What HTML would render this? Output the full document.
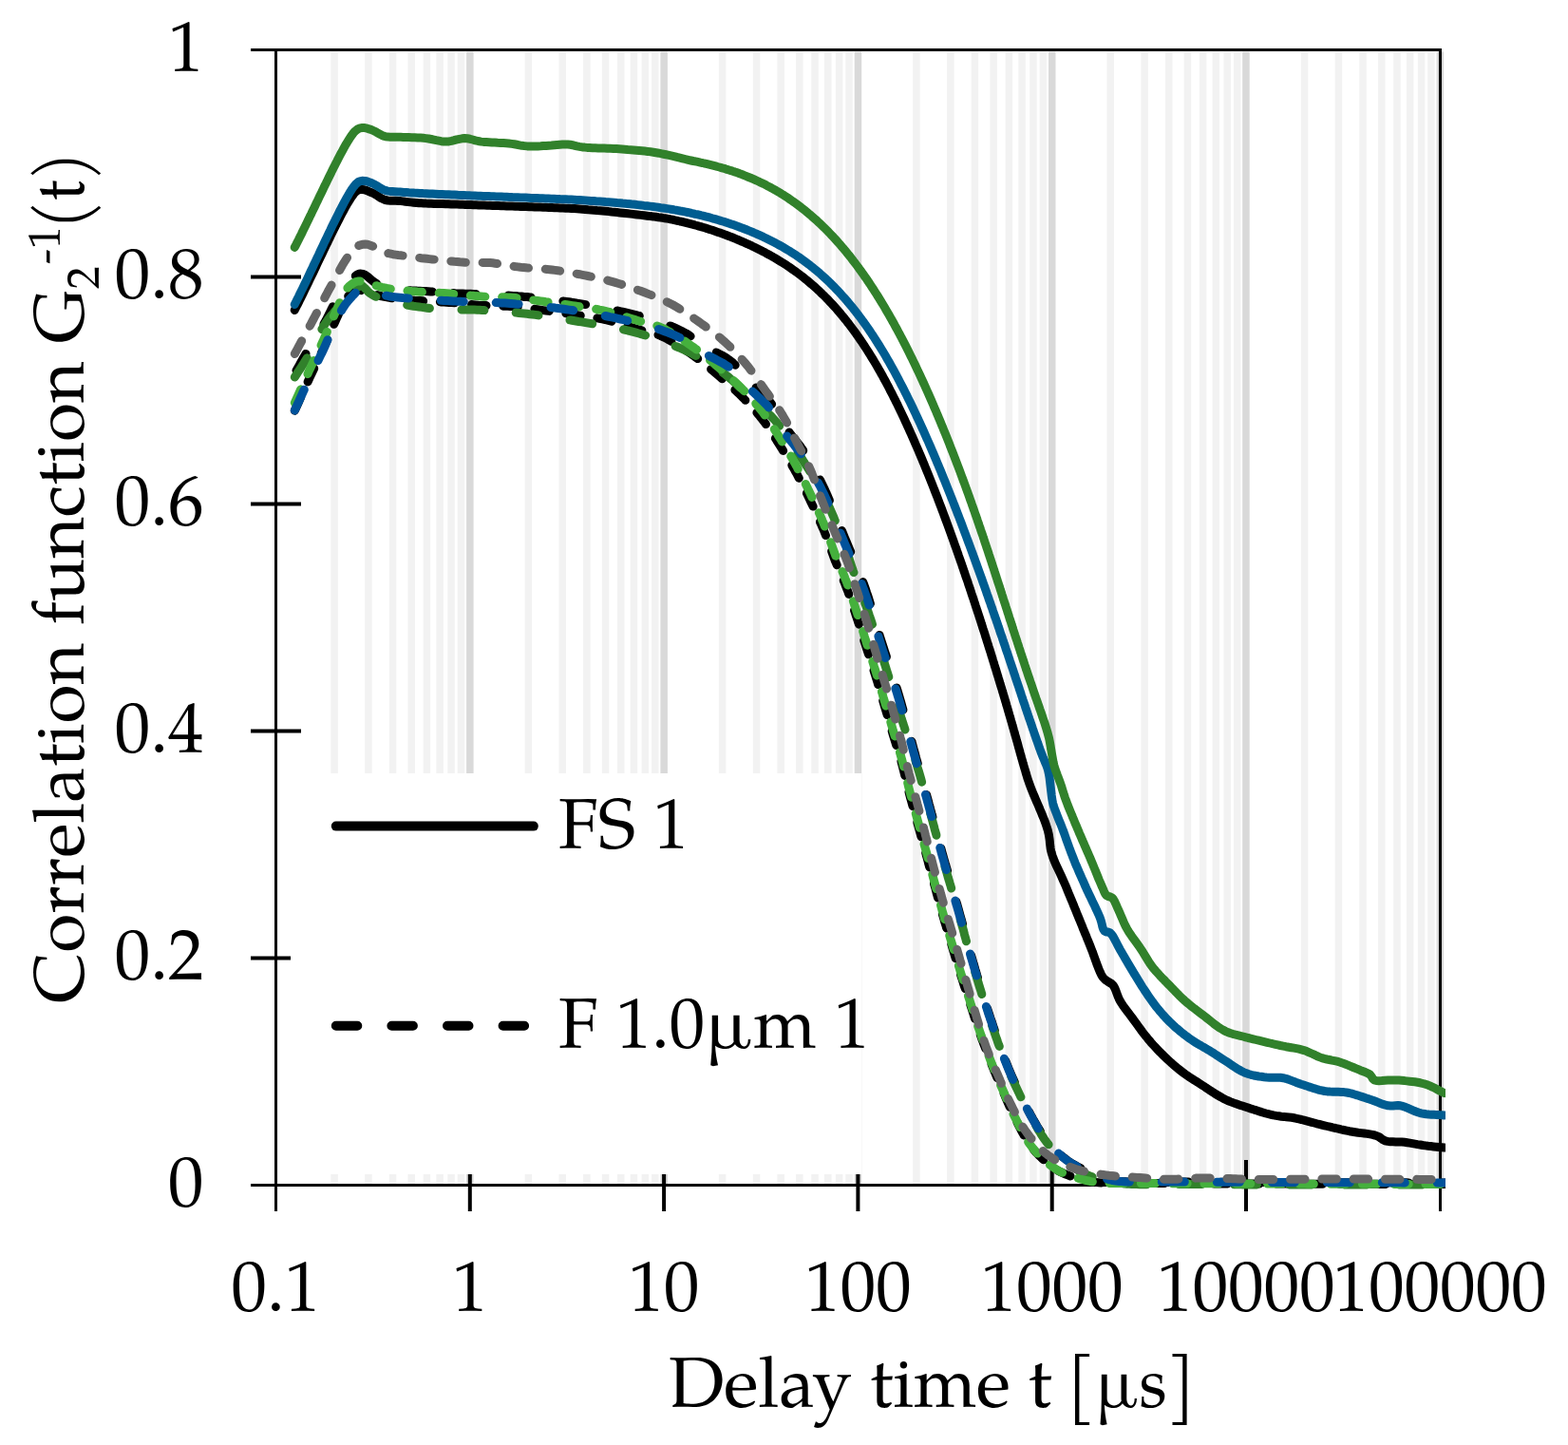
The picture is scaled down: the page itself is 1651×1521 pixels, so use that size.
<!DOCTYPE html><html><head><meta charset="utf-8"><title>Correlation function</title><style>html,body{margin:0;padding:0;background:#fff;overflow:hidden}svg{display:block}text{font-family:"TeX Gyre Pagella","Palatino Linotype","Book Antiqua",Palatino,"Liberation Serif",serif;fill:#000}</style></head><body>
<svg width="1651" height="1521" viewBox="0 0 1651 1521">
<rect x="0" y="0" width="1651" height="1521" fill="#fff"/>
<g><rect x="348.3" y="54.5" width="7.5" height="1192.0" fill="#f2f2f2"/><rect x="384.2" y="54.5" width="7.5" height="1192.0" fill="#f2f2f2"/><rect x="409.8" y="54.5" width="7.5" height="1192.0" fill="#f2f2f2"/><rect x="429.5" y="54.5" width="7.5" height="1192.0" fill="#f2f2f2"/><rect x="445.7" y="54.5" width="7.5" height="1192.0" fill="#f2f2f2"/><rect x="459.4" y="54.5" width="7.5" height="1192.0" fill="#f2f2f2"/><rect x="471.3" y="54.5" width="7.5" height="1192.0" fill="#f2f2f2"/><rect x="481.7" y="54.5" width="7.5" height="1192.0" fill="#f2f2f2"/><rect x="491.1" y="54.5" width="7.5" height="1192.0" fill="#d9d9d9"/><rect x="552.6" y="54.5" width="7.5" height="1192.0" fill="#f2f2f2"/><rect x="588.5" y="54.5" width="7.5" height="1192.0" fill="#f2f2f2"/><rect x="614.1" y="54.5" width="7.5" height="1192.0" fill="#f2f2f2"/><rect x="633.8" y="54.5" width="7.5" height="1192.0" fill="#f2f2f2"/><rect x="650.0" y="54.5" width="7.5" height="1192.0" fill="#f2f2f2"/><rect x="663.7" y="54.5" width="7.5" height="1192.0" fill="#f2f2f2"/><rect x="675.6" y="54.5" width="7.5" height="1192.0" fill="#f2f2f2"/><rect x="686.0" y="54.5" width="7.5" height="1192.0" fill="#f2f2f2"/><rect x="695.4" y="54.5" width="7.5" height="1192.0" fill="#d9d9d9"/><rect x="756.9" y="54.5" width="7.5" height="1192.0" fill="#f2f2f2"/><rect x="792.8" y="54.5" width="7.5" height="1192.0" fill="#f2f2f2"/><rect x="818.4" y="54.5" width="7.5" height="1192.0" fill="#f2f2f2"/><rect x="838.1" y="54.5" width="7.5" height="1192.0" fill="#f2f2f2"/><rect x="854.3" y="54.5" width="7.5" height="1192.0" fill="#f2f2f2"/><rect x="868.0" y="54.5" width="7.5" height="1192.0" fill="#f2f2f2"/><rect x="879.9" y="54.5" width="7.5" height="1192.0" fill="#f2f2f2"/><rect x="890.3" y="54.5" width="7.5" height="1192.0" fill="#f2f2f2"/><rect x="899.7" y="54.5" width="7.5" height="1192.0" fill="#d9d9d9"/><rect x="961.2" y="54.5" width="7.5" height="1192.0" fill="#f2f2f2"/><rect x="997.1" y="54.5" width="7.5" height="1192.0" fill="#f2f2f2"/><rect x="1022.7" y="54.5" width="7.5" height="1192.0" fill="#f2f2f2"/><rect x="1042.4" y="54.5" width="7.5" height="1192.0" fill="#f2f2f2"/><rect x="1058.6" y="54.5" width="7.5" height="1192.0" fill="#f2f2f2"/><rect x="1072.3" y="54.5" width="7.5" height="1192.0" fill="#f2f2f2"/><rect x="1084.2" y="54.5" width="7.5" height="1192.0" fill="#f2f2f2"/><rect x="1094.6" y="54.5" width="7.5" height="1192.0" fill="#f2f2f2"/><rect x="1104.0" y="54.5" width="7.5" height="1192.0" fill="#d9d9d9"/><rect x="1165.5" y="54.5" width="7.5" height="1192.0" fill="#f2f2f2"/><rect x="1201.4" y="54.5" width="7.5" height="1192.0" fill="#f2f2f2"/><rect x="1227.0" y="54.5" width="7.5" height="1192.0" fill="#f2f2f2"/><rect x="1246.7" y="54.5" width="7.5" height="1192.0" fill="#f2f2f2"/><rect x="1262.9" y="54.5" width="7.5" height="1192.0" fill="#f2f2f2"/><rect x="1276.6" y="54.5" width="7.5" height="1192.0" fill="#f2f2f2"/><rect x="1288.5" y="54.5" width="7.5" height="1192.0" fill="#f2f2f2"/><rect x="1298.9" y="54.5" width="7.5" height="1192.0" fill="#f2f2f2"/><rect x="1308.2" y="54.5" width="7.5" height="1192.0" fill="#d9d9d9"/><rect x="1369.8" y="54.5" width="7.5" height="1192.0" fill="#f2f2f2"/><rect x="1405.7" y="54.5" width="7.5" height="1192.0" fill="#f2f2f2"/><rect x="1431.3" y="54.5" width="7.5" height="1192.0" fill="#f2f2f2"/><rect x="1451.0" y="54.5" width="7.5" height="1192.0" fill="#f2f2f2"/><rect x="1467.2" y="54.5" width="7.5" height="1192.0" fill="#f2f2f2"/><rect x="1480.9" y="54.5" width="7.5" height="1192.0" fill="#f2f2f2"/><rect x="1492.8" y="54.5" width="7.5" height="1192.0" fill="#f2f2f2"/><rect x="1503.2" y="54.5" width="7.5" height="1192.0" fill="#f2f2f2"/><rect x="1512.6" y="54.5" width="7.5" height="1192.0" fill="#d9d9d9"/></g>
<g><line x1="290.5" y1="51.0" x2="290.5" y2="1275.0" stroke="#000" stroke-width="3"/><line x1="1516.5" y1="51.0" x2="1516.5" y2="1275.0" stroke="#000" stroke-width="3"/><line x1="264" y1="52.5" x2="1518.0" y2="52.5" stroke="#000" stroke-width="3"/><line x1="264" y1="1247.5" x2="1518.0" y2="1247.5" stroke="#000" stroke-width="3"/><line x1="264" y1="1008.5" x2="317" y2="1008.5" stroke="#000" stroke-width="4"/><line x1="264" y1="769.5" x2="317" y2="769.5" stroke="#000" stroke-width="4"/><line x1="264" y1="530.5" x2="317" y2="530.5" stroke="#000" stroke-width="4"/><line x1="264" y1="291.5" x2="317" y2="291.5" stroke="#000" stroke-width="4"/><line x1="494.8" y1="1221" x2="494.8" y2="1275" stroke="#000" stroke-width="4"/><line x1="699.1" y1="1221" x2="699.1" y2="1275" stroke="#000" stroke-width="4"/><line x1="903.4" y1="1221" x2="903.4" y2="1275" stroke="#000" stroke-width="4"/><line x1="1107.7" y1="1221" x2="1107.7" y2="1275" stroke="#000" stroke-width="4"/><line x1="1312.0" y1="1221" x2="1312.0" y2="1275" stroke="#000" stroke-width="4"/></g>
<rect x="306" y="814" width="601" height="422" fill="#fff"/>
<line x1="353.8" y1="869.6" x2="561.8" y2="869.6" stroke="#000" stroke-width="10" stroke-linecap="round"/>
<line x1="353.8" y1="1079.8" x2="552.2" y2="1079.8" stroke="#000" stroke-width="10" stroke-linecap="round" stroke-dasharray="22.5 36.1"/>
<defs><clipPath id="pc"><rect x="0" y="0" width="1522" height="1521"/></clipPath></defs>
<g clip-path="url(#pc)">
<path d="M312.0 389.9 L312.7 388.7 L314.0 386.5 L315.2 384.4 L316.4 382.2 L317.6 380.1 L318.8 377.9 L320.0 375.8 L321.3 373.7 L322.0 372.4 M341.0 341.0 L341.7 339.8 L342.9 337.5 L344.1 335.3 L345.3 332.9 L346.5 330.6 L347.7 328.2 L348.8 325.9 L350.0 323.6 L350.4 322.8 M374.3 290.5 L375.7 289.3 L377.8 288.3 L380.0 288.1 L382.3 288.5 L384.6 289.4 L387.1 291.1 L389.6 293.3 L392.3 295.6 L395.0 297.6 L396.6 298.6 M431.3 305.7 L433.0 305.8 L436.0 305.9 L439.1 306.1 L442.1 306.2 L445.0 306.4 L448.0 306.6 L450.9 306.8 L453.7 307.0 L455.3 307.1 M477.2 308.6 L479.4 308.8 L482.0 308.9 L484.6 309.0 L487.3 309.1 L490.0 309.2 L492.8 309.3 L495.7 309.3 L498.6 309.4 L501.2 309.5 M535.2 311.0 L537.5 311.2 L540.5 311.4 L543.4 311.6 L546.3 311.9 L549.3 312.1 L552.2 312.4 L555.2 312.6 L558.1 312.9 L559.1 313.0 M592.9 316.9 L593.3 317.0 L596.2 317.4 L599.1 317.8 L602.0 318.3 L604.9 318.7 L607.9 319.2 L610.8 319.6 L613.7 320.1 L616.6 320.6 M650.0 327.0 L650.6 327.1 L653.6 327.8 L656.6 328.5 L659.7 329.2 L662.7 329.9 L665.7 330.6 L668.7 331.3 L671.6 332.1 L673.3 332.5 M705.7 342.9 L707.3 343.5 L709.8 344.6 L712.4 345.8 L714.9 347.0 L717.4 348.2 L720.0 349.6 L722.4 350.9 L724.8 352.4 L727.1 353.9 M754.3 370.9 L755.6 371.6 L758.1 372.9 L760.6 374.2 L763.0 375.6 L765.3 377.1 L767.5 378.6 L769.7 380.3 L771.9 382.1 L773.9 384.1 L774.2 384.3 M796.0 408.0 L797.2 409.1 L799.3 411.0 L801.4 413.0 L803.5 415.0 L805.5 417.1 L807.5 419.2 L809.3 421.3 L811.1 423.4 L812.6 425.4 M831.0 455.0 L831.6 455.8 L833.5 458.2 L835.4 460.5 L837.3 462.9 L839.1 465.2 L840.9 467.5 L842.7 469.8 L844.3 472.2 L845.7 474.2 M863.3 504.9 L863.8 505.8 L865.1 508.5 L866.5 511.3 L868.0 514.5 L869.0 516.6 L870.0 518.8 L871.0 521.2 L872.1 523.6 L873.1 526.1 L873.4 526.8 M886.4 558.5 L886.8 559.4 L887.9 562.2 L889.0 564.9 L890.1 567.7 L891.3 570.4 L892.5 573.2 L893.6 575.9 L894.8 578.7 L895.7 580.8 M908.7 612.6 L909.6 614.9 L910.6 617.8 L911.6 620.6 L912.5 623.4 L913.5 626.2 L914.4 629.0 L915.3 631.8 L916.1 634.7 L916.4 635.5 M926.1 668.4 L926.2 669.0 L927.1 671.9 L928.0 674.7 L928.9 677.5 L929.8 680.2 L930.7 683.0 L931.6 685.8 L932.5 688.5 L933.4 691.2 L933.4 691.4 M944.1 724.0 L944.3 724.4 L945.1 727.2 L946.0 730.1 L946.8 732.8 L947.6 735.5 L948.4 738.3 L949.2 741.1 L950.0 743.9 L950.8 746.8 L950.9 747.2 M959.9 780.3 L960.1 781.1 L960.9 783.9 L961.6 786.6 L962.3 789.4 L963.1 792.0 L963.8 794.7 L964.6 797.7 L965.5 800.7 L966.3 803.6 M975.6 836.6 L975.9 837.6 L976.7 840.5 L977.5 843.5 L978.2 846.2 L979.0 849.0 L979.7 851.7 L980.5 854.5 L981.2 857.3 L982.0 860.0 M990.9 893.1 L991.1 894.0 L991.9 896.9 L992.7 899.7 L993.5 902.6 L994.3 905.4 L995.1 908.3 L996.0 911.2 L996.8 914.1 L997.5 916.4 M1007.0 949.3 L1007.7 951.5 L1008.5 954.4 L1009.3 957.3 L1010.1 960.2 L1010.9 963.1 L1011.7 965.9 L1012.5 968.8 L1013.3 971.7 L1013.5 972.6 M1022.6 1005.7 L1022.7 1006.2 L1023.6 1009.1 L1024.4 1011.9 L1025.2 1014.7 L1026.1 1017.6 L1026.9 1020.5 L1027.8 1023.4 L1028.6 1026.3 L1029.4 1028.9 M1039.6 1061.6 L1040.2 1063.4 L1041.1 1066.2 L1042.1 1069.1 L1043.0 1071.9 L1044.0 1074.7 L1044.9 1077.5 L1045.8 1080.3 L1046.8 1083.1 L1047.3 1084.6 M1058.8 1116.8 L1058.9 1116.9 L1060.0 1119.6 L1061.1 1122.4 L1062.2 1125.1 L1063.3 1127.8 L1064.5 1130.6 L1065.7 1133.3 L1067.0 1136.1 L1068.2 1138.9 L1068.3 1139.1 M1083.2 1169.9 L1083.8 1170.9 L1085.0 1173.2 L1086.3 1175.5 L1087.5 1177.7 L1089.1 1180.4 L1090.6 1183.0 L1092.0 1185.6 L1093.5 1188.0 L1095.0 1190.3 L1095.3 1190.8 M1117.6 1216.5 L1118.2 1217.0 L1120.3 1218.7 L1122.4 1220.3 L1124.5 1221.9 L1126.8 1223.4 L1129.1 1224.9 L1131.4 1226.2 L1133.7 1227.5 L1136.1 1228.7 L1137.8 1229.5 M1169.4 1241.9 L1171.8 1242.4 L1175.0 1243.0 L1176.8 1243.2 L1178.7 1243.4 L1180.8 1243.6 L1182.9 1243.7 L1185.1 1243.8 L1187.4 1243.9 L1189.8 1244.0 L1192.3 1244.1 L1193.3 1244.1 M1227.3 1244.0 L1228.3 1244.0 L1231.8 1244.0 L1235.3 1243.9 L1238.9 1243.9 L1242.5 1243.9 L1246.2 1243.9 L1250.0 1244.0 L1251.3 1244.0 M1285.3 1244.2 L1287.6 1244.2 L1290.2 1244.2 L1292.9 1244.2 L1295.6 1244.3 L1298.3 1244.3 L1301.0 1244.3 L1303.8 1244.3 L1306.6 1244.3 L1309.3 1244.3 M1343.3 1244.4 L1345.0 1244.5 L1348.1 1244.5 L1351.2 1244.5 L1354.4 1244.5 L1357.5 1244.5 L1360.7 1244.5 L1363.8 1244.5 L1367.0 1244.5 L1367.3 1244.5 M1401.3 1244.6 L1402.6 1244.6 L1405.8 1244.6 L1409.1 1244.6 L1412.4 1244.7 L1415.7 1244.7 L1419.0 1244.7 L1422.2 1244.7 L1425.3 1244.7 M1459.3 1244.8 L1461.5 1244.8 L1464.8 1244.8 L1468.0 1244.8 L1471.2 1244.8 L1474.4 1244.8 L1477.6 1244.8 L1480.8 1244.8 L1483.3 1244.9 M1517.3 1245.0 L1518.0 1245.0 L1521.0 1245.0" fill="none" stroke="#000" stroke-width="9" stroke-linecap="round" stroke-linejoin="round"/>
<path d="M310.3 432.2 311.5 429.6 312.7 427.0 313.9 424.3 315.1 421.7 316.3 419.0 317.5 416.3 318.7 413.7 319.9 411.0 321.1 408.4 322.3 405.8 323.5 403.2 324.7 400.6 325.8 398.1 327.0 395.6 328.2 393.0 329.4 390.5 330.6 388.0 331.8 385.5 332.9 383.0 334.1 380.6 335.3 378.2 336.4 375.7 337.6 373.3 338.7 370.9 339.9 368.4 341.0 365.9 342.1 363.4 343.3 360.8 344.4 358.2 345.5 355.5 346.6 352.9 347.8 350.3 348.9 347.7 350.0 345.1 351.1 342.6 352.2 340.1 353.3 337.6 354.4 335.2 355.7 332.4 356.9 329.6 358.1 326.8 359.3 324.0 360.5 321.3 361.8 318.8 363.1 316.4 364.5 314.3 366.0 312.4 368.0 310.4 370.1 308.6 372.4 307.2 374.6 306.1 377.0 305.5 379.4 305.5 382.0 305.9 384.6 306.8 387.2 307.7 390.0 308.5 392.3 309.1 394.7 309.7 397.0 310.4 399.5 311.1 402.0 311.8 404.7 312.4 407.5 312.9 410.0 313.4 412.7 313.8 415.5 314.1 418.4 314.5 421.3 314.8 424.3 315.1 427.4 315.4 430.4 315.6 433.5 315.9 436.5 316.2 439.5 316.4 442.3 316.6 445.0 316.8 447.8 317.0 450.6 317.1 453.4 317.3 456.2 317.4 459.0 317.6 461.8 317.7 464.6 317.9 467.4 318.0 470.2 318.2 473.0 318.4 475.8 318.6 478.6 318.8 481.4 319.1 484.2 319.4 487.0 319.6 489.8 319.9 492.6 320.2 495.4 320.5 498.2 320.7 501.0 320.9 503.8 321.2 506.6 321.4 509.4 321.5 512.2 321.6 515.0 321.7 517.8 321.8 520.6 321.9 523.4 321.9 526.1 322.0 528.9 322.1 531.7 322.2 534.5 322.3 537.2 322.4 540.0 322.6 542.9 322.9 545.9 323.2 548.8 323.5 551.7 323.9 554.6 324.2 557.5 324.6 560.4 325.0 563.3 325.4 566.2 325.8 569.1 326.2 572.0 326.6 574.8 327.0 577.5 327.3 580.3 327.7 583.1 328.1 585.9 328.5 588.7 328.8 591.4 329.2 594.2 329.6 597.0 330.0 599.8 330.4 602.6 330.8 605.3 331.3 608.2 331.7 611.1 332.1 614.0 332.5 616.9 332.9 619.8 333.3 622.6 333.8 625.5 334.2 628.4 334.7 631.3 335.3 634.2 335.9 637.2 336.5 639.9 337.2 642.7 337.9 645.6 338.7 648.4 339.5 651.3 340.3 654.2 341.2 657.0 342.1 659.9 343.0 662.7 343.9 665.4 344.7 668.1 345.6 670.7 346.4 673.2 347.1 676.3 347.9 679.2 348.7 682.0 349.3 684.7 350.0 687.4 350.7 690.1 351.5 693.0 352.4 695.9 353.6 698.2 354.7 700.5 355.8 702.9 357.0 705.3 358.4 707.8 359.8 710.3 361.3 712.8 362.8 715.3 364.3 717.7 365.9 720.2 367.6 722.7 369.2 725.1 370.8 727.4 372.4 729.7 374.0 732.0 375.7 734.3 377.3 736.6 379.0 738.8 380.8 741.0 382.5 743.2 384.3 745.4 386.0 747.6 387.8 749.7 389.6 751.8 391.3 753.9 393.1 756.0 394.9 758.0 396.6 760.2 398.5 762.4 400.3 764.5 402.1 766.6 403.9 768.7 405.8 770.7 407.6 772.8 409.4 774.8 411.3 776.8 413.2 778.8 415.1 780.8 417.1 782.7 419.0 784.6 421.0 786.5 423.0 788.4 425.0 790.3 427.0 792.2 429.1 794.1 431.1 795.9 433.2 797.7 435.3 799.5 437.5 801.2 439.6 802.9 441.7 804.7 444.1 806.4 446.4 808.1 448.8 809.7 451.2 811.4 453.6 813.0 456.0 814.5 458.5 816.1 460.9 817.7 463.4 819.2 465.9 820.8 468.4 822.3 470.7 823.7 473.0 825.2 475.3 826.6 477.6 828.0 479.9 829.5 482.3 830.9 484.7 832.3 487.0 833.7 489.5 835.1 492.0 836.6 494.5 838.0 497.1 839.3 499.4 840.5 501.8 841.8 504.2 843.1 506.7 844.4 509.3 845.8 511.9 847.1 514.5 848.4 517.1 849.7 519.7 850.9 522.3 852.2 524.9 853.4 527.5 854.6 530.0 855.8 532.4 856.9 534.8 858.0 537.2 859.2 539.9 860.4 542.5 861.6 545.1 862.7 547.6 863.8 550.1 864.9 552.5 865.9 555.0 867.0 557.4 868.0 559.9 869.0 562.4 870.0 564.9 871.1 567.6 872.1 570.4 873.1 573.2 874.1 575.9 875.1 578.7 876.1 581.5 877.1 584.2 878.1 587.0 879.1 589.7 880.2 592.4 881.3 595.0 882.3 597.6 883.4 600.1 884.5 602.6 885.7 605.2 886.8 607.7 887.9 610.3 889.0 612.8 890.0 615.5 891.1 618.2 892.0 620.7 893.0 623.2 893.9 625.8 894.8 628.4 895.7 631.0 896.6 633.7 897.5 636.3 898.4 639.0 899.3 641.7 900.2 644.3 901.0 647.0 901.9 649.6 902.8 652.3 903.6 654.9 904.5 657.5 905.3 660.1 906.2 662.7 907.0 665.4 907.8 668.0 908.7 670.6 909.5 673.2 910.3 675.9 911.2 678.5 912.0 681.1 912.8 683.7 913.7 686.4 914.6 689.0 915.4 691.6 916.3 694.2 917.1 696.9 918.0 699.5 918.9 702.1 919.7 704.7 920.5 707.3 921.4 710.0 922.2 712.6 923.0 715.2 923.8 717.8 924.6 720.5 925.4 723.1 926.2 725.7 926.9 728.3 927.7 731.0 928.5 733.6 929.3 736.2 930.0 738.8 930.8 741.5 931.6 744.1 932.4 746.7 933.2 749.4 934.0 752.0 934.8 754.7 935.6 757.4 936.3 760.0 937.1 762.7 937.9 765.3 938.7 767.9 939.5 770.5 940.2 773.1 941.0 775.6 941.8 778.2 942.6 780.8 943.4 783.4 944.2 785.9 945.0 788.4 945.8 790.9 946.6 793.4 947.3 796.0 948.1 798.7 948.9 801.4 949.6 804.0 950.3 806.6 951.0 809.4 951.7 812.1 952.4 815.0 953.1 817.8 953.8 820.7 954.5 823.5 955.2 826.4 955.9 829.3 956.6 832.1 957.3 834.8 958.0 837.5 958.8 840.5 959.6 843.4 960.4 846.3 961.2 849.2 961.9 852.0 962.7 854.8 963.5 857.7 964.3 860.5 965.1 863.3 965.9 866.2 966.7 869.0 967.5 871.9 968.3 874.7 969.1 877.6 969.9 880.5 970.7 883.3 971.5 886.2 972.2 889.1 973.0 891.9 973.8 894.8 974.6 897.6 975.4 900.5 976.2 903.4 977.0 906.2 977.7 909.1 978.5 912.0 979.3 914.8 980.1 917.7 980.9 920.5 981.7 923.4 982.4 926.3 983.2 929.1 984.0 932.0 984.8 934.8 985.6 937.7 986.3 940.6 987.1 943.4 987.9 946.3 988.7 949.2 989.5 952.0 990.3 954.9 991.1 957.8 991.9 960.6 992.7 963.5 993.5 966.1 994.2 968.7 995.0 971.4 995.8 974.0 996.6 976.7 997.4 979.3 998.2 981.9 999.0 984.5 999.7 987.2 1000.5 989.8 1001.3 992.4 1002.1 995.0 1002.9 997.7 1003.7 1000.4 1004.5 1003.0 1005.3 1005.7 1006.1 1008.4 1006.9 1011.0 1007.7 1013.7 1008.5 1016.3 1009.4 1019.0 1010.2 1021.6 1011.0 1024.3 1011.9 1027.1 1012.8 1029.9 1013.7 1032.7 1014.6 1035.5 1015.5 1038.3 1016.4 1041.0 1017.4 1043.9 1018.3 1046.7 1019.2 1049.6 1020.2 1052.5 1021.1 1055.1 1021.9 1057.9 1022.8 1060.6 1023.7 1063.4 1024.6 1066.2 1025.5 1069.0 1026.4 1071.8 1027.3 1074.6 1028.3 1077.4 1029.2 1080.2 1030.1 1083.0 1031.1 1085.7 1032.0 1088.4 1033.0 1091.1 1033.9 1093.8 1034.9 1096.4 1035.9 1099.1 1036.9 1101.7 1037.9 1104.3 1038.8 1107.0 1039.9 1109.6 1040.9 1112.2 1041.9 1114.8 1042.9 1117.4 1044.0 1120.2 1045.1 1122.9 1046.2 1125.7 1047.4 1128.4 1048.5 1131.1 1049.7 1133.9 1050.8 1136.6 1052.0 1139.3 1053.1 1142.0 1054.3 1144.7 1055.5 1147.4 1056.6 1149.9 1057.7 1152.4 1058.7 1154.9 1059.8 1157.4 1060.9 1159.9 1062.0 1162.4 1063.1 1164.9 1064.2 1167.3 1065.3 1169.8 1066.5 1172.3 1067.7 1174.8 1069.0 1177.3 1070.3 1179.8 1071.5 1182.3 1072.8 1184.8 1074.1 1187.3 1075.4 1189.9 1076.7 1192.4 1078.1 1194.9 1079.5 1197.4 1081.0 1199.8 1082.5 1202.2 1084.1 1204.6 1085.8 1206.8 1087.5 1209.0 1089.4 1211.2 1091.4 1213.5 1093.5 1215.7 1095.7 1217.8 1097.9 1219.9 1100.1 1222.0 1102.4 1223.9 1104.8 1225.8 1107.2 1227.6 1109.6 1229.3 1112.0 1230.9 1114.4 1232.4 1116.9 1233.7 1119.5 1234.9 1122.1 1236.1 1124.8 1237.1 1127.5 1238.1 1130.3 1238.9 1133.0 1239.7 1135.6 1240.5 1138.2 1241.1 1140.6 1241.8 1143.0 1242.4 1146.0 1243.1 1148.6 1243.6 1151.2 1244.1 1153.8 1244.4 1156.7 1244.7 1160.0 1245.0 1162.2 1245.2 1164.5 1245.3 1166.9 1245.4 1169.3 1245.5 1171.9 1245.5 1174.6 1245.6 1177.3 1245.6 1180.2 1245.6 1183.1 1245.6 1186.1 1245.6 1189.2 1245.6 1192.3 1245.5 1195.5 1245.5 1198.8 1245.5 1202.1 1245.5 1205.5 1245.5 1209.0 1245.5 1211.3 1245.5 1213.7 1245.6 1216.2 1245.6 1218.6 1245.6 1221.1 1245.6 1223.7 1245.6 1226.2 1245.6 1228.9 1245.6 1231.5 1245.7 1234.2 1245.7 1236.9 1245.7 1239.7 1245.7 1242.5 1245.7 1245.3 1245.7 1248.1 1245.7 1251.0 1245.8 1253.9 1245.8 1256.9 1245.8 1259.8 1245.8 1262.8 1245.8 1265.8 1245.8 1268.9 1245.8 1271.9 1245.8 1275.0 1245.8 1278.1 1245.9 1281.3 1245.9 1284.4 1245.9 1287.6 1245.9 1290.8 1245.9 1294.0 1245.9 1297.2 1245.9 1300.4 1245.9 1303.7 1245.9 1307.0 1246.0 1310.2 1246.0 1313.5 1246.0 1316.9 1246.0 1320.2 1246.0 1323.5 1246.0 1326.1 1246.0 1328.7 1246.0 1331.4 1246.0 1334.0 1246.0 1336.7 1246.1 1339.4 1246.1 1342.2 1246.1 1344.9 1246.1 1347.7 1246.1 1350.5 1246.1 1353.3 1246.1 1356.2 1246.1 1359.0 1246.1 1361.9 1246.1 1364.8 1246.1 1367.7 1246.1 1370.6 1246.2 1373.5 1246.2 1376.5 1246.2 1379.4 1246.2 1382.4 1246.2 1385.4 1246.2 1388.4 1246.2 1391.4 1246.2 1394.4 1246.2 1397.4 1246.2 1400.5 1246.2 1403.5 1246.2 1406.6 1246.2 1409.7 1246.3 1412.7 1246.3 1415.8 1246.3 1418.9 1246.3 1422.0 1246.3 1425.1 1246.3 1428.2 1246.3 1431.3 1246.3 1434.4 1246.3 1437.6 1246.3 1440.7 1246.3 1443.8 1246.3 1446.9 1246.3 1450.1 1246.3 1453.2 1246.4 1456.3 1246.4 1459.4 1246.4 1462.6 1246.4 1465.7 1246.4 1468.8 1246.4 1471.9 1246.4 1475.0 1246.4 1478.2 1246.4 1481.3 1246.4 1484.4 1246.4 1487.5 1246.4 1490.6 1246.4 1493.6 1246.4 1496.7 1246.5 1499.8 1246.5 1502.8 1246.5 1505.9 1246.5 1508.9 1246.5 1512.0 1246.5 1515.0 1246.5 1518.0 1246.5 1521.0 1246.5" fill="none" stroke="#000" stroke-width="9" stroke-linecap="round" stroke-linejoin="round" stroke-dasharray="15.5 17.8"/>
<path d="M310.3 397.0 L311.8 394.7 L313.2 392.5 L314.7 390.3 L316.2 388.1 L317.6 385.8 L319.1 383.6 L320.5 381.3 L322.0 379.0 L323.3 376.8 M338.9 346.6 L339.3 345.9 L340.6 343.5 L342.1 341.2 L343.5 339.0 L345.2 336.6 L347.0 334.3 L348.8 332.0 L350.7 329.9 L352.5 327.8 L353.0 327.3 M376.3 302.6 L376.3 302.5 L378.2 301.4 L380.0 301.0 L382.1 301.5 L384.0 303.1 L385.9 305.1 L387.8 307.2 L390.0 309.0 L392.2 310.3 L394.4 311.6 L396.0 312.3 M428.7 321.1 L429.7 321.3 L432.6 321.7 L435.5 322.2 L438.3 322.6 L441.0 323.0 L444.0 323.4 L447.0 323.8 L449.9 324.2 L452.4 324.5 M486.0 326.0 L488.4 325.9 L491.3 325.9 L494.2 325.9 L497.3 326.0 L499.7 326.1 L502.3 326.2 L504.9 326.3 L507.6 326.5 L509.9 326.6 M543.2 329.1 L546.2 329.4 L549.1 329.7 L552.0 330.0 L554.9 330.3 L557.8 330.7 L560.6 331.0 L563.5 331.4 L566.4 331.8 L567.0 331.9 M600.0 336.9 L600.8 337.0 L603.7 337.5 L606.6 338.0 L609.5 338.5 L612.3 338.9 L615.2 339.4 L618.1 339.9 L621.1 340.4 L623.7 340.8 M656.5 346.8 L658.6 347.3 L661.3 348.0 L663.9 348.6 L666.9 349.4 L669.8 350.2 L672.7 351.0 L675.6 351.8 L678.4 352.7 L679.6 353.0 M711.1 364.3 L712.8 365.0 L715.3 366.0 L717.8 367.1 L720.2 368.2 L722.7 369.3 L725.1 370.4 L727.5 371.6 L730.0 372.9 L732.5 374.2 L732.8 374.4 M761.1 392.2 L762.8 393.5 L765.0 395.2 L767.2 397.0 L769.3 398.8 L771.5 400.7 L773.6 402.6 L775.7 404.5 L777.7 406.4 L779.3 407.9 M804.4 430.8 L805.0 431.4 L807.1 433.3 L809.2 435.4 L811.3 437.4 L813.3 439.6 L815.3 441.8 L817.1 443.8 L818.8 445.9 L820.5 448.1 L820.7 448.3 M840.0 476.3 L840.1 476.4 L841.6 478.7 L843.1 481.0 L844.6 483.3 L846.1 485.6 L847.6 488.0 L849.2 490.4 L850.7 492.8 L852.2 495.3 L853.0 496.5 M869.6 526.2 L870.6 528.2 L871.8 530.9 L873.1 533.6 L874.3 536.3 L875.5 539.1 L876.7 541.8 L877.9 544.6 L879.0 547.4 L879.3 548.1 M891.4 579.9 L891.8 581.0 L892.6 583.5 L893.4 585.8 L894.1 588.2 L894.9 590.7 L895.7 593.2 L896.6 595.9 L897.6 598.8 L898.4 601.1 L899.0 602.6 M910.7 634.6 L911.4 636.5 L912.4 639.4 L913.5 642.3 L914.5 645.2 L915.4 648.0 L916.4 650.8 L917.3 653.5 L918.2 656.2 L918.5 657.2 M928.7 689.7 L929.4 692.0 L930.3 694.7 L931.1 697.5 L932.0 700.3 L932.8 703.0 L933.7 705.8 L934.6 708.6 L935.5 711.5 L935.8 712.6 M945.7 745.1 L946.0 746.1 L946.9 748.9 L947.8 751.6 L948.6 754.4 L949.4 757.0 L950.3 759.6 L951.1 762.2 L952.1 765.1 L953.0 768.0 L953.0 768.0 M963.9 800.2 L964.6 802.7 L965.4 805.3 L966.2 808.1 L967.1 810.8 L967.9 813.6 L968.7 816.3 L969.5 819.1 L970.3 822.0 L970.6 823.2 M979.7 856.0 L979.7 856.2 L980.5 858.9 L981.2 861.7 L982.0 864.5 L982.7 867.3 L983.5 870.1 L984.2 872.9 L985.0 875.7 L985.8 878.5 L985.9 879.2 M995.0 912.0 L995.1 912.5 L996.0 915.4 L996.8 918.2 L997.6 921.1 L998.4 923.9 L999.3 926.8 L1000.1 929.6 L1001.0 932.5 L1001.7 935.0 M1011.2 967.6 L1011.7 969.6 L1012.5 972.4 L1013.3 975.3 L1014.1 978.1 L1014.9 981.0 L1015.6 983.9 L1016.4 986.7 L1017.2 989.6 L1017.5 990.8 M1026.8 1023.5 L1026.9 1023.8 L1027.8 1026.6 L1028.6 1029.5 L1029.5 1032.3 L1030.3 1035.2 L1031.2 1038.0 L1032.1 1040.9 L1033.0 1043.7 L1033.8 1046.5 M1044.4 1078.8 L1044.9 1080.3 L1045.8 1083.0 L1046.8 1085.8 L1047.7 1088.6 L1048.7 1091.4 L1049.7 1094.1 L1050.6 1096.9 L1051.6 1099.7 L1052.3 1101.4 M1064.8 1133.0 L1065.7 1135.1 L1067.0 1137.9 L1068.2 1140.6 L1069.5 1143.4 L1070.8 1146.2 L1072.1 1148.9 L1073.4 1151.6 L1074.7 1154.4 L1074.9 1154.8 M1090.8 1184.8 L1092.1 1187.0 L1093.5 1189.5 L1095.0 1191.8 L1096.4 1194.2 L1097.9 1196.4 L1099.4 1198.6 L1101.0 1200.8 L1102.6 1202.9 L1104.1 1204.8 M1129.2 1227.6 L1131.1 1229.0 L1133.3 1230.6 L1135.5 1232.0 L1137.9 1233.4 L1140.4 1234.7 L1143.0 1236.0 L1145.3 1237.0 L1147.6 1237.9 L1149.9 1238.8 L1150.2 1239.0 M1183.4 1246.0 L1184.3 1246.0 L1186.7 1246.2 L1189.1 1246.3 L1191.6 1246.5 L1194.2 1246.6 L1196.7 1246.6 L1199.4 1246.7 L1202.0 1246.7 L1204.8 1246.7 L1207.4 1246.7 M1241.4 1246.5 L1242.6 1246.5 L1246.3 1246.5 L1250.0 1246.5 L1252.1 1246.5 L1254.2 1246.5 L1256.3 1246.6 L1258.5 1246.6 L1260.8 1246.6 L1263.0 1246.6 L1265.3 1246.6 L1265.4 1246.6 M1299.4 1246.8 L1301.0 1246.8 L1303.8 1246.8 L1306.6 1246.8 L1309.4 1246.9 L1312.3 1246.9 L1315.2 1246.9 L1318.1 1246.9 L1321.0 1246.9 L1323.4 1246.9 M1357.4 1246.9 L1357.5 1246.9 L1360.7 1246.9 L1363.8 1246.9 L1367.0 1246.9 L1370.2 1246.9 L1373.4 1246.9 L1376.6 1246.9 L1379.8 1246.9 L1381.4 1246.9 M1415.4 1246.9 L1415.7 1246.9 L1419.0 1246.9 L1422.2 1246.9 L1425.5 1246.9 L1428.8 1246.9 L1432.1 1246.9 L1435.4 1246.9 L1438.7 1246.9 L1439.4 1246.9 M1473.4 1247.0 L1474.4 1247.0 L1477.6 1247.0 L1480.8 1247.0 L1484.0 1247.0 L1487.2 1247.0 L1490.3 1247.0 L1493.5 1247.0 L1496.6 1247.0 L1497.4 1247.0" fill="none" stroke="#31812b" stroke-width="9" stroke-linecap="round" stroke-linejoin="round"/>
<path d="M310.3 424.0 311.5 421.3 312.7 418.7 313.9 416.0 315.1 413.3 316.3 410.6 317.5 407.9 318.7 405.3 319.9 402.6 321.1 399.9 322.3 397.3 323.5 394.7 324.7 392.1 325.8 389.5 327.0 387.0 328.2 384.4 329.4 381.8 330.6 379.3 331.8 376.8 332.9 374.3 334.1 371.8 335.3 369.4 336.4 366.9 337.6 364.5 338.7 362.0 339.9 359.5 341.0 357.0 342.1 354.4 343.3 351.8 344.4 349.2 345.5 346.5 346.6 343.9 347.8 341.2 348.9 338.6 350.0 336.0 351.1 333.4 352.2 330.9 353.3 328.4 354.4 326.0 355.7 323.2 356.9 320.3 358.1 317.5 359.3 314.7 360.5 312.0 361.8 309.4 363.1 307.0 364.5 304.9 366.0 303.0 368.0 300.9 370.1 299.2 372.4 297.7 374.6 296.6 377.0 296.0 379.4 295.9 382.0 296.4 384.6 297.3 387.2 298.2 390.0 299.0 392.3 299.6 394.7 300.3 397.0 300.9 399.5 301.6 402.0 302.3 404.7 302.9 407.5 303.5 410.0 303.9 412.7 304.3 415.5 304.7 418.4 305.0 421.3 305.4 424.3 305.7 427.4 306.0 430.4 306.2 433.5 306.5 436.5 306.7 439.5 307.0 442.3 307.2 445.0 307.4 447.8 307.6 450.6 307.7 453.4 307.9 456.2 308.0 459.0 308.2 461.8 308.3 464.6 308.5 467.4 308.6 470.2 308.8 473.0 309.0 475.8 309.2 478.6 309.5 481.4 309.7 484.2 310.0 487.0 310.3 489.8 310.5 492.6 310.8 495.4 311.1 498.2 311.3 501.0 311.6 503.8 311.8 506.6 312.0 509.4 312.2 512.2 312.3 515.0 312.4 517.8 312.5 520.6 312.5 523.4 312.6 526.1 312.6 528.9 312.7 531.7 312.8 534.5 312.9 537.2 313.1 540.0 313.3 542.9 313.6 545.9 313.9 548.8 314.2 551.7 314.5 554.6 314.9 557.5 315.3 560.4 315.7 563.3 316.1 566.2 316.5 569.1 316.9 572.0 317.3 574.8 317.7 577.5 318.0 580.3 318.4 583.1 318.8 585.9 319.2 588.7 319.6 591.4 320.0 594.2 320.4 597.0 320.8 599.8 321.2 602.6 321.6 605.3 322.0 608.2 322.4 611.1 322.9 614.0 323.3 616.9 323.7 619.8 324.1 622.6 324.6 625.5 325.0 628.4 325.5 631.3 326.1 634.2 326.6 637.2 327.3 639.9 328.0 642.7 328.7 645.6 329.5 648.4 330.3 651.3 331.2 654.2 332.0 657.0 332.9 659.9 333.8 662.7 334.7 665.4 335.6 668.1 336.4 670.7 337.2 673.2 338.0 676.3 338.8 679.2 339.6 682.0 340.2 684.7 340.9 687.4 341.6 690.1 342.4 693.0 343.4 695.9 344.6 698.2 345.6 700.5 346.8 702.9 348.1 705.3 349.4 707.8 350.8 710.3 352.3 712.8 353.8 715.3 355.4 717.7 357.0 720.2 358.7 722.7 360.3 725.1 362.0 727.4 363.6 729.7 365.2 732.0 366.9 734.3 368.5 736.6 370.3 738.8 372.0 741.0 373.8 743.2 375.5 745.4 377.3 747.6 379.1 749.7 380.9 751.8 382.7 753.9 384.5 756.0 386.2 758.0 388.0 760.2 389.9 762.4 391.7 764.5 393.6 766.6 395.4 768.7 397.2 770.7 399.1 772.8 400.9 774.8 402.8 776.8 404.7 778.8 406.7 780.8 408.7 782.7 410.6 784.6 412.6 786.5 414.6 788.4 416.7 790.3 418.7 792.2 420.8 794.1 422.9 795.9 425.0 797.7 427.1 799.5 429.3 801.2 431.4 802.9 433.6 804.7 436.0 806.4 438.3 808.1 440.7 809.7 443.1 811.4 445.6 813.0 448.0 814.5 450.5 816.1 453.0 817.7 455.5 819.2 458.0 820.8 460.5 822.3 462.8 823.7 465.2 825.2 467.5 826.6 469.8 828.0 472.2 829.5 474.6 830.9 476.9 832.3 479.4 833.7 481.8 835.1 484.3 836.6 486.9 838.0 489.5 839.3 491.8 840.5 494.3 841.8 496.7 843.1 499.3 844.4 501.8 845.8 504.5 847.1 507.1 848.4 509.7 849.7 512.4 850.9 515.0 852.2 517.6 853.4 520.2 854.6 522.7 855.8 525.2 856.9 527.6 858.0 530.0 859.2 532.7 860.4 535.4 861.6 538.0 862.7 540.5 863.8 543.0 864.9 545.5 865.9 548.0 867.0 550.5 868.0 553.0 869.0 555.5 870.0 558.0 871.1 560.8 872.1 563.6 873.1 566.4 874.1 569.2 875.1 572.0 876.1 574.8 877.1 577.5 878.1 580.3 879.1 583.1 880.2 585.8 881.3 588.4 882.3 591.0 883.4 593.6 884.5 596.1 885.7 598.7 886.8 601.2 887.9 603.8 889.0 606.4 890.0 609.1 891.1 611.8 892.0 614.3 893.0 616.9 893.9 619.5 894.8 622.1 895.7 624.8 896.6 627.5 897.5 630.2 898.4 632.9 899.3 635.6 900.2 638.3 901.0 640.9 901.9 643.6 902.8 646.2 903.6 648.9 904.5 651.5 905.3 654.2 906.2 656.8 907.0 659.5 907.8 662.1 908.7 664.8 909.5 667.4 910.3 670.1 911.2 672.8 912.0 675.4 912.8 678.1 913.7 680.7 914.6 683.3 915.4 686.0 916.3 688.6 917.1 691.3 918.0 693.9 918.9 696.6 919.7 699.2 920.5 701.9 921.4 704.5 922.2 707.2 923.0 709.8 923.8 712.5 924.6 715.1 925.4 717.8 926.2 720.4 926.9 723.1 927.7 725.7 928.5 728.4 929.3 731.0 930.0 733.7 930.8 736.3 931.6 739.0 932.4 741.7 933.2 744.3 934.0 747.0 934.8 749.7 935.6 752.4 936.3 755.1 937.1 757.8 937.9 760.4 938.7 763.1 939.5 765.7 940.2 768.3 941.0 770.8 941.8 773.5 942.6 776.1 943.4 778.7 944.2 781.2 945.0 783.7 945.8 786.3 946.6 788.8 947.3 791.4 948.1 794.1 948.9 796.9 949.6 799.5 950.3 802.2 951.0 804.9 951.7 807.8 952.4 810.6 953.1 813.5 953.8 816.4 954.5 819.3 955.2 822.2 955.9 825.0 956.6 827.9 957.3 830.7 958.0 833.4 958.8 836.4 959.6 839.3 960.4 842.2 961.2 845.1 961.9 848.0 962.7 850.9 963.5 853.7 964.3 856.6 965.1 859.4 965.9 862.3 966.7 865.2 967.5 868.1 968.3 871.0 969.1 873.9 969.9 876.8 970.7 879.7 971.5 882.5 972.2 885.4 973.0 888.3 973.8 891.2 974.6 894.1 975.4 897.0 976.2 899.9 977.0 902.8 977.7 905.7 978.5 908.6 979.3 911.5 980.1 914.3 980.9 917.2 981.7 920.1 982.4 923.0 983.2 925.9 984.0 928.8 984.8 931.7 985.6 934.6 986.3 937.5 987.1 940.4 987.9 943.3 988.7 946.2 989.5 949.0 990.3 951.9 991.1 954.8 991.9 957.7 992.7 960.6 993.5 963.3 994.2 965.9 995.0 968.6 995.8 971.2 996.6 973.9 997.4 976.6 998.2 979.2 999.0 981.9 999.7 984.5 1000.5 987.2 1001.3 989.8 1002.1 992.4 1002.9 995.1 1003.7 997.9 1004.5 1000.6 1005.3 1003.3 1006.1 1006.0 1006.9 1008.7 1007.7 1011.3 1008.5 1014.0 1009.4 1016.7 1010.2 1019.3 1011.0 1022.0 1011.9 1024.9 1012.8 1027.7 1013.7 1030.5 1014.6 1033.3 1015.5 1036.1 1016.4 1039.0 1017.4 1041.8 1018.3 1044.7 1019.2 1047.6 1020.2 1050.5 1021.1 1053.2 1021.9 1056.0 1022.8 1058.7 1023.7 1061.5 1024.6 1064.4 1025.5 1067.2 1026.4 1070.0 1027.3 1072.9 1028.3 1075.7 1029.2 1078.5 1030.1 1081.3 1031.1 1084.1 1032.0 1086.8 1033.0 1089.5 1033.9 1092.2 1034.9 1094.9 1035.9 1097.6 1036.9 1100.2 1037.9 1102.9 1038.8 1105.6 1039.9 1108.2 1040.9 1110.8 1041.9 1113.5 1042.9 1116.1 1044.0 1118.9 1045.1 1121.7 1046.2 1124.4 1047.4 1127.2 1048.5 1130.0 1049.7 1132.7 1050.8 1135.4 1052.0 1138.2 1053.1 1140.9 1054.3 1143.7 1055.5 1146.4 1056.6 1148.9 1057.7 1151.4 1058.7 1154.0 1059.8 1156.5 1060.9 1159.0 1062.0 1161.5 1063.1 1164.0 1064.2 1166.5 1065.3 1169.1 1066.5 1171.6 1067.7 1174.1 1069.0 1176.6 1070.3 1179.1 1071.5 1181.6 1072.8 1184.1 1074.1 1186.7 1075.4 1189.3 1076.7 1191.8 1078.1 1194.4 1079.5 1196.9 1081.0 1199.3 1082.5 1201.8 1084.1 1204.1 1085.8 1206.4 1087.5 1208.6 1089.4 1210.9 1091.4 1213.1 1093.5 1215.4 1095.7 1217.5 1097.9 1219.7 1100.1 1221.7 1102.4 1223.7 1104.8 1225.6 1107.2 1227.4 1109.6 1229.1 1112.0 1230.7 1114.4 1232.2 1116.9 1233.6 1119.5 1234.8 1122.1 1236.0 1124.8 1237.0 1127.5 1238.0 1130.3 1238.8 1133.0 1239.6 1135.6 1240.4 1138.2 1241.1 1140.6 1241.7 1143.0 1242.3 1146.0 1243.0 1148.6 1243.6 1151.2 1244.0 1153.8 1244.4 1156.7 1244.7 1160.0 1245.0 1162.2 1245.2 1164.5 1245.3 1166.9 1245.4 1169.3 1245.5 1171.9 1245.5 1174.6 1245.6 1177.3 1245.6 1180.2 1245.6 1183.1 1245.6 1186.1 1245.6 1189.2 1245.5 1192.3 1245.5 1195.5 1245.5 1198.8 1245.5 1202.1 1245.5 1205.5 1245.5 1209.0 1245.5 1211.3 1245.5 1213.7 1245.5 1216.2 1245.5 1218.6 1245.6 1221.1 1245.6 1223.7 1245.6 1226.2 1245.6 1228.9 1245.6 1231.5 1245.6 1234.2 1245.7 1236.9 1245.7 1239.7 1245.7 1242.5 1245.7 1245.3 1245.7 1248.1 1245.7 1251.0 1245.7 1253.9 1245.7 1256.9 1245.8 1259.8 1245.8 1262.8 1245.8 1265.8 1245.8 1268.9 1245.8 1271.9 1245.8 1275.0 1245.8 1278.1 1245.8 1281.3 1245.9 1284.4 1245.9 1287.6 1245.9 1290.8 1245.9 1294.0 1245.9 1297.2 1245.9 1300.4 1245.9 1303.7 1245.9 1307.0 1245.9 1310.2 1246.0 1313.5 1246.0 1316.9 1246.0 1320.2 1246.0 1323.5 1246.0 1326.1 1246.0 1328.7 1246.0 1331.4 1246.0 1334.0 1246.0 1336.7 1246.0 1339.4 1246.1 1342.2 1246.1 1344.9 1246.1 1347.7 1246.1 1350.5 1246.1 1353.3 1246.1 1356.2 1246.1 1359.0 1246.1 1361.9 1246.1 1364.8 1246.1 1367.7 1246.1 1370.6 1246.1 1373.5 1246.1 1376.5 1246.2 1379.4 1246.2 1382.4 1246.2 1385.4 1246.2 1388.4 1246.2 1391.4 1246.2 1394.4 1246.2 1397.4 1246.2 1400.5 1246.2 1403.5 1246.2 1406.6 1246.2 1409.7 1246.2 1412.7 1246.2 1415.8 1246.3 1418.9 1246.3 1422.0 1246.3 1425.1 1246.3 1428.2 1246.3 1431.3 1246.3 1434.4 1246.3 1437.6 1246.3 1440.7 1246.3 1443.8 1246.3 1446.9 1246.3 1450.1 1246.3 1453.2 1246.3 1456.3 1246.3 1459.4 1246.4 1462.6 1246.4 1465.7 1246.4 1468.8 1246.4 1471.9 1246.4 1475.0 1246.4 1478.2 1246.4 1481.3 1246.4 1484.4 1246.4 1487.5 1246.4 1490.6 1246.4 1493.6 1246.4 1496.7 1246.4 1499.8 1246.4 1502.8 1246.5 1505.9 1246.5 1508.9 1246.5 1512.0 1246.5 1515.0 1246.5 1518.0 1246.5 1521.0 1246.5" fill="none" stroke="#45b03d" stroke-width="9" stroke-linecap="round" stroke-linejoin="round" stroke-dasharray="15.5 17.8"/>
<path d="M310.3 432.0 L311.5 429.3 L312.7 426.7 L314.0 424.0 L315.2 421.3 L316.4 418.7 L317.6 416.0 L318.8 413.3 L320.0 410.7 L320.3 410.2 M335.0 379.5 L335.3 378.8 L336.6 376.1 L337.9 373.4 L339.2 370.7 L340.5 368.0 L341.7 365.3 L342.9 362.6 L344.1 359.8 L345.0 357.7 M359.4 327.0 L360.4 325.4 L361.8 323.1 L363.3 320.9 L364.8 318.9 L366.4 316.9 L368.0 315.0 L369.9 312.9 L371.8 310.8 L373.7 308.8 L374.3 308.3 M406.5 311.2 L409.2 311.7 L412.3 312.2 L415.4 312.6 L418.5 313.0 L421.3 313.3 L424.2 313.6 L427.1 313.8 L430.1 314.0 L430.3 314.0 M464.2 316.2 L464.7 316.2 L467.6 316.4 L470.6 316.6 L473.7 316.8 L477.0 317.0 L479.4 317.1 L482.0 317.2 L484.6 317.3 L487.3 317.4 L488.2 317.5 M522.2 318.6 L522.7 318.6 L525.7 318.8 L528.7 318.9 L531.7 319.1 L534.6 319.3 L537.5 319.5 L540.5 319.7 L543.4 320.0 L546.1 320.2 M580.0 323.6 L581.6 323.8 L584.5 324.1 L587.5 324.5 L590.4 324.9 L593.3 325.3 L596.2 325.7 L599.1 326.1 L602.0 326.5 L603.7 326.8 M637.3 332.5 L639.6 333.0 L642.4 333.6 L645.2 334.1 L647.9 334.7 L650.6 335.3 L653.6 336.0 L656.6 336.6 L659.7 337.3 L660.7 337.6 M693.5 346.5 L695.9 347.3 L699.0 348.4 L701.8 349.4 L704.6 350.5 L707.3 351.6 L709.8 352.7 L712.4 353.8 L714.9 355.0 L715.8 355.4 M746.4 374.5 L748.2 375.5 L750.7 376.8 L753.2 378.1 L755.6 379.4 L758.1 380.7 L760.6 382.0 L763.0 383.4 L765.3 384.9 L767.3 386.2 M792.4 412.1 L793.0 412.6 L795.1 414.6 L797.2 416.6 L799.3 418.5 L801.4 420.5 L803.5 422.5 L805.5 424.5 L807.5 426.5 L809.3 428.6 L809.5 428.9 M828.6 458.9 L829.8 460.5 L831.6 462.9 L833.5 465.2 L835.4 467.5 L837.3 469.9 L839.1 472.2 L840.9 474.5 L842.7 476.8 L843.4 477.8 M861.4 508.0 L862.4 509.9 L863.8 512.4 L865.1 515.1 L866.5 517.9 L868.0 521.0 L869.0 523.1 L870.0 525.3 L871.0 527.7 L871.9 529.6 M884.9 561.0 L885.6 562.8 L886.8 565.6 L887.9 568.3 L889.0 571.0 L890.1 573.7 L891.3 576.4 L892.5 579.2 L893.6 581.9 L894.1 583.1 M907.3 614.5 L907.4 615.0 L908.5 617.8 L909.6 620.6 L910.6 623.4 L911.6 626.2 L912.5 628.9 L913.5 631.7 L914.4 634.5 L915.2 637.1 M924.9 669.7 L925.4 671.4 L926.2 674.2 L927.1 677.0 L928.0 679.8 L928.9 682.6 L929.8 685.3 L930.7 688.0 L931.6 690.8 L932.2 692.6 M942.9 724.8 L943.4 726.2 L944.3 729.0 L945.1 731.9 L946.0 734.7 L946.8 737.4 L947.6 740.1 L948.4 742.9 L949.2 745.6 L949.8 747.8 M958.8 780.6 L959.4 782.5 L960.1 785.3 L960.9 788.0 L961.6 790.8 L962.3 793.4 L963.1 796.1 L963.8 798.7 L964.6 801.7 L965.2 803.7 M974.5 836.4 L975.1 838.4 L975.9 841.3 L976.7 844.2 L977.5 847.1 L978.2 849.8 L979.0 852.5 L979.7 855.2 L980.5 858.0 L980.9 859.6 M989.8 892.4 L990.4 894.4 L991.1 897.2 L991.9 900.0 L992.7 902.8 L993.5 905.6 L994.3 908.5 L995.1 911.3 L996.0 914.2 L996.3 915.5 M1005.9 948.1 L1006.0 948.5 L1006.8 951.3 L1007.7 954.2 L1008.5 957.0 L1009.3 959.9 L1010.1 962.7 L1010.9 965.6 L1011.7 968.5 L1012.5 971.2 M1021.5 1004.0 L1021.9 1005.5 L1022.7 1008.4 L1023.6 1011.2 L1024.4 1014.0 L1025.2 1016.8 L1026.1 1019.7 L1026.9 1022.5 L1027.8 1025.4 L1028.2 1027.0 M1038.4 1059.5 L1039.3 1062.2 L1040.2 1065.0 L1041.1 1067.9 L1042.1 1070.7 L1043.0 1073.5 L1044.0 1076.2 L1044.9 1079.0 L1045.8 1081.8 L1046.0 1082.2 M1057.4 1114.3 L1057.8 1115.3 L1058.9 1118.0 L1060.0 1120.8 L1061.1 1123.5 L1062.2 1126.2 L1063.3 1128.9 L1064.5 1131.6 L1065.7 1134.4 L1066.6 1136.4 M1081.4 1167.0 L1082.5 1169.2 L1083.8 1171.6 L1085.0 1173.9 L1086.3 1176.1 L1087.5 1178.3 L1089.1 1181.0 L1090.6 1183.6 L1092.0 1186.1 L1093.2 1187.9 M1114.6 1214.1 L1116.2 1215.5 L1118.2 1217.3 L1120.3 1219.0 L1122.4 1220.6 L1124.5 1222.1 L1126.8 1223.7 L1129.1 1225.1 L1131.4 1226.4 L1133.7 1227.7 L1134.2 1227.9 M1165.6 1240.9 L1166.8 1241.3 L1169.1 1241.9 L1171.8 1242.5 L1175.0 1243.0 L1176.8 1243.2 L1178.7 1243.4 L1180.8 1243.6 L1182.9 1243.7 L1185.1 1243.9 L1187.4 1244.0 L1189.3 1244.0 M1223.3 1244.1 L1224.9 1244.0 L1228.3 1244.0 L1231.8 1244.0 L1235.3 1244.0 L1238.9 1244.0 L1242.5 1244.0 L1246.2 1244.0 L1247.3 1244.0 M1281.3 1244.2 L1282.4 1244.2 L1285.0 1244.2 L1287.6 1244.2 L1290.2 1244.3 L1292.9 1244.3 L1295.6 1244.3 L1298.3 1244.3 L1301.0 1244.3 L1303.8 1244.3 L1305.3 1244.3 M1339.3 1244.5 L1342.0 1244.5 L1345.0 1244.5 L1348.1 1244.5 L1351.2 1244.5 L1354.4 1244.5 L1357.5 1244.5 L1360.7 1244.5 L1363.3 1244.5 M1397.3 1244.6 L1399.3 1244.6 L1402.6 1244.7 L1405.8 1244.7 L1409.1 1244.7 L1412.4 1244.7 L1415.7 1244.7 L1419.0 1244.7 L1421.3 1244.7 M1455.3 1244.8 L1458.3 1244.8 L1461.5 1244.8 L1464.8 1244.8 L1468.0 1244.8 L1471.2 1244.8 L1474.4 1244.8 L1477.6 1244.9 L1479.3 1244.9 M1513.3 1245.0 L1515.0 1245.0 L1518.0 1245.0 L1521.0 1245.0" fill="none" stroke="#00529b" stroke-width="9" stroke-linecap="round" stroke-linejoin="round"/>
<path d="M310.3 372.5 311.7 369.9 313.1 367.3 314.5 364.7 315.9 362.1 317.3 359.5 318.7 356.9 320.1 354.3 321.5 351.7 323.0 349.1 324.4 346.5 325.8 343.9 327.2 341.3 328.6 338.6 330.0 336.0 331.3 333.5 332.7 330.9 334.1 328.4 335.4 325.8 336.8 323.2 338.1 320.6 339.5 318.0 340.9 315.4 342.2 312.8 343.6 310.3 344.9 307.7 346.2 305.2 347.6 302.8 348.9 300.4 350.2 298.0 351.8 295.2 353.3 292.4 354.9 289.5 356.4 286.7 357.9 283.9 359.4 281.2 360.9 278.6 362.4 276.1 363.9 273.8 365.3 271.6 366.7 269.6 368.6 267.0 370.4 264.7 372.2 262.7 374.0 260.9 375.9 259.5 378.6 258.1 381.4 257.3 384.4 257.0 387.1 257.3 389.9 258.2 392.8 259.3 395.6 260.4 397.8 261.4 399.9 262.6 402.0 263.8 404.3 265.0 406.8 266.0 409.0 266.7 411.4 267.2 413.9 267.7 416.5 268.1 419.3 268.5 422.0 268.8 424.9 269.2 427.8 269.6 430.3 270.0 432.8 270.3 435.5 270.6 438.2 271.0 440.9 271.3 443.7 271.7 446.6 272.0 449.4 272.3 452.2 272.6 455.1 272.9 457.9 273.2 460.7 273.5 463.6 273.8 466.5 274.1 469.4 274.4 472.4 274.7 475.4 275.0 478.3 275.3 481.3 275.5 484.2 275.8 487.0 276.0 489.8 276.2 492.4 276.4 495.0 276.5 497.8 276.6 500.5 276.6 503.1 276.5 505.6 276.5 508.0 276.4 510.6 276.4 513.2 276.4 516.0 276.6 518.7 276.8 521.4 277.2 524.2 277.6 527.1 278.0 530.1 278.5 533.0 279.0 536.0 279.5 539.0 280.0 542.0 280.5 545.0 280.9 548.0 281.3 550.8 281.6 553.5 281.8 556.3 282.1 559.1 282.3 561.9 282.4 564.7 282.6 567.4 282.8 570.2 283.0 573.0 283.2 575.8 283.4 578.6 283.7 581.3 284.0 584.2 284.4 587.2 284.8 590.1 285.2 593.0 285.7 595.9 286.1 598.8 286.6 601.6 287.1 604.5 287.6 607.4 288.2 610.3 288.7 613.2 289.3 616.1 289.9 619.0 290.5 621.9 291.1 624.9 291.7 627.8 292.3 630.7 293.0 633.6 293.6 636.5 294.3 639.4 295.0 642.3 295.8 645.2 296.6 647.9 297.4 650.6 298.2 653.3 299.0 656.0 299.8 658.7 300.7 661.4 301.6 664.0 302.5 666.7 303.5 669.4 304.4 672.0 305.4 674.6 306.3 677.2 307.3 679.9 308.3 682.6 309.4 685.3 310.4 687.9 311.4 690.6 312.5 693.2 313.6 695.8 314.7 698.4 315.9 701.0 317.1 703.6 318.4 706.2 319.7 708.7 321.0 711.1 322.4 713.6 323.9 716.0 325.4 718.5 326.9 720.9 328.5 723.3 330.1 725.7 331.7 728.1 333.4 730.5 335.0 732.9 336.7 735.2 338.3 737.7 340.0 740.1 341.8 742.6 343.5 745.0 345.3 747.4 347.1 749.8 348.8 752.2 350.7 754.5 352.5 756.8 354.4 759.1 356.3 761.4 358.3 763.5 360.2 765.5 362.1 767.6 364.0 769.6 366.0 771.6 368.0 773.6 370.0 775.5 372.0 777.5 374.1 779.4 376.2 781.2 378.3 783.1 380.4 784.9 382.5 786.8 384.8 788.6 387.1 790.4 389.4 792.2 391.8 793.9 394.2 795.7 396.6 797.4 399.0 799.1 401.4 800.8 403.8 802.5 406.3 804.2 408.7 805.8 411.0 807.5 413.2 809.2 415.5 810.8 417.8 812.5 420.0 814.2 422.3 815.8 424.6 817.4 426.9 819.0 429.2 820.6 431.6 822.1 433.9 823.6 436.3 825.1 438.9 826.6 441.5 828.1 444.1 829.5 446.7 830.8 449.4 832.2 452.1 833.5 454.7 834.8 457.4 836.1 460.0 837.5 462.7 838.8 465.3 840.1 467.8 841.4 470.3 842.7 472.8 844.0 475.2 845.2 477.7 846.5 480.1 847.7 482.6 849.0 485.1 850.2 487.6 851.4 490.2 852.6 492.9 853.7 495.4 854.8 498.0 855.8 500.7 856.9 503.4 857.9 506.1 858.9 508.9 859.9 511.6 860.9 514.4 861.9 517.2 862.9 519.9 863.9 522.6 865.0 525.3 866.0 528.0 867.1 530.7 868.2 533.4 869.2 536.2 870.3 538.9 871.4 541.5 872.5 544.2 873.6 546.9 874.7 549.5 875.8 552.2 876.8 554.8 877.9 557.4 879.0 560.0 880.1 562.7 881.2 565.3 882.4 567.9 883.5 570.5 884.6 573.1 885.7 575.6 886.8 578.2 887.9 580.8 889.0 583.4 890.1 586.0 891.1 588.7 892.1 591.3 893.0 593.9 893.9 596.5 894.9 599.1 895.8 601.8 896.7 604.5 897.5 607.1 898.4 609.8 899.3 612.5 900.2 615.2 901.0 617.8 901.9 620.5 902.8 623.1 903.6 625.8 904.5 628.4 905.3 631.1 906.2 633.7 907.0 636.4 907.9 639.0 908.7 641.7 909.5 644.3 910.4 647.0 911.2 649.6 912.0 652.3 912.8 654.9 913.6 657.6 914.4 660.2 915.2 662.9 916.0 665.5 916.7 668.2 917.5 670.8 918.3 673.5 919.1 676.1 919.8 678.8 920.6 681.4 921.4 684.1 922.2 686.8 923.0 689.4 923.7 692.0 924.5 694.7 925.3 697.4 926.1 700.0 926.9 702.7 927.7 705.3 928.5 708.0 929.2 710.6 930.0 713.2 930.8 715.9 931.6 718.5 932.4 721.2 933.2 723.8 934.0 726.5 934.8 729.1 935.5 731.8 936.3 734.4 937.1 737.1 937.9 739.7 938.7 742.4 939.4 745.0 940.2 747.7 941.0 750.6 941.8 753.5 942.6 756.4 943.5 759.2 944.3 762.1 945.1 765.0 945.8 767.9 946.6 770.8 947.4 773.7 948.1 776.6 948.9 779.5 949.6 782.2 950.2 784.9 950.9 787.5 951.5 790.2 952.1 792.9 952.8 795.6 953.4 798.3 954.0 801.0 954.6 803.7 955.3 806.3 955.9 809.0 956.6 811.7 957.3 814.6 958.1 817.5 958.9 820.4 959.7 823.3 960.5 826.1 961.2 829.0 962.0 831.9 962.8 834.8 963.6 837.7 964.4 840.6 965.2 843.5 965.9 846.2 966.7 849.0 967.4 851.8 968.1 854.5 968.9 857.3 969.6 860.1 970.3 862.9 971.0 865.7 971.8 868.4 972.5 871.2 973.2 874.0 973.9 876.7 974.6 879.6 975.4 882.5 976.1 885.4 976.8 888.3 977.5 891.2 978.3 894.1 979.0 897.0 979.7 899.8 980.4 902.7 981.2 905.6 981.9 908.5 982.6 911.2 983.3 913.8 984.0 916.5 984.7 919.1 985.4 921.8 986.1 924.4 986.8 927.1 987.6 929.8 988.3 932.4 989.0 935.1 989.8 937.7 990.5 940.4 991.3 943.1 992.0 945.8 992.8 948.5 993.6 951.3 994.4 954.0 995.2 956.7 996.0 959.5 996.8 962.2 997.6 964.9 998.4 967.6 999.2 970.2 1000.0 972.9 1000.8 975.6 1001.6 978.3 1002.4 981.0 1003.1 983.7 1003.9 986.3 1004.7 989.0 1005.5 991.6 1006.2 994.3 1007.0 997.0 1007.8 999.7 1008.6 1002.5 1009.4 1005.3 1010.2 1008.1 1011.0 1011.0 1011.9 1013.9 1012.7 1016.8 1013.5 1019.7 1014.4 1022.6 1015.2 1025.5 1016.0 1028.4 1016.9 1031.3 1017.7 1034.2 1018.5 1037.0 1019.3 1039.7 1020.1 1042.4 1020.8 1045.1 1021.6 1047.8 1022.4 1050.4 1023.1 1053.1 1023.9 1055.7 1024.7 1058.4 1025.4 1061.0 1026.2 1063.7 1027.0 1066.3 1027.8 1069.0 1028.6 1071.7 1029.4 1074.3 1030.2 1077.0 1031.0 1079.7 1031.8 1082.4 1032.6 1085.0 1033.5 1087.7 1034.3 1090.4 1035.2 1093.0 1036.1 1095.7 1037.0 1098.3 1037.9 1100.9 1038.9 1103.7 1040.0 1106.5 1041.1 1109.3 1042.3 1112.0 1043.4 1114.8 1044.6 1117.5 1045.8 1120.2 1046.9 1123.0 1048.1 1125.7 1049.3 1128.5 1050.5 1131.2 1051.6 1133.7 1052.7 1136.3 1053.7 1138.8 1054.8 1141.3 1055.9 1143.9 1057.0 1146.4 1058.1 1148.9 1059.2 1151.5 1060.3 1154.0 1061.5 1156.5 1062.7 1159.0 1063.9 1161.5 1065.2 1164.1 1066.5 1166.7 1067.8 1169.3 1069.1 1171.9 1070.4 1174.5 1071.8 1177.1 1073.2 1179.6 1074.6 1182.2 1076.1 1184.7 1077.6 1187.1 1079.2 1189.5 1080.8 1191.8 1082.6 1194.2 1084.3 1196.5 1086.2 1198.8 1088.0 1201.1 1090.0 1203.4 1091.9 1205.5 1093.9 1207.6 1096.0 1209.7 1098.2 1211.6 1100.3 1213.5 1102.6 1215.3 1104.9 1217.0 1107.3 1218.6 1109.8 1220.2 1112.3 1221.6 1114.9 1223.0 1117.6 1224.3 1120.2 1225.6 1122.9 1226.8 1125.7 1227.9 1128.4 1229.0 1131.2 1230.0 1133.8 1230.9 1136.5 1231.7 1139.2 1232.4 1142.0 1233.1 1144.8 1233.7 1147.6 1234.2 1150.4 1234.8 1153.2 1235.2 1156.1 1235.7 1158.9 1236.1 1161.7 1236.5 1164.5 1236.9 1167.3 1237.3 1170.0 1237.6 1172.8 1237.8 1175.5 1238.1 1178.3 1238.3 1181.0 1238.5 1183.8 1238.6 1186.6 1238.8 1189.3 1238.9 1192.1 1239.1 1194.8 1239.2 1197.6 1239.4 1200.4 1239.6 1203.1 1239.8 1205.9 1240.0 1208.6 1240.2 1211.4 1240.4 1214.1 1240.6 1216.9 1240.8 1219.6 1240.9 1222.4 1241.1 1225.1 1241.2 1227.9 1241.3 1230.7 1241.3 1233.5 1241.3 1236.4 1241.2 1239.2 1241.2 1242.1 1241.0 1245.0 1240.9 1247.9 1240.7 1250.7 1240.6 1253.6 1240.4 1256.5 1240.3 1259.3 1240.1 1262.2 1240.0 1265.0 1240.0 1267.8 1240.0 1270.6 1240.0 1273.4 1240.0 1276.2 1240.1 1279.0 1240.1 1281.8 1240.2 1284.6 1240.3 1287.3 1240.4 1290.1 1240.5 1292.8 1240.5 1295.4 1240.6 1298.0 1240.7 1300.9 1240.8 1303.6 1240.9 1306.2 1241.0 1308.8 1241.1 1311.4 1241.2 1314.1 1241.3 1317.0 1241.4 1320.1 1241.4 1323.5 1241.5 1325.7 1241.5 1328.0 1241.5 1330.4 1241.5 1332.8 1241.5 1335.4 1241.5 1338.0 1241.5 1340.7 1241.5 1343.4 1241.5 1346.3 1241.5 1349.1 1241.4 1352.1 1241.4 1355.1 1241.4 1358.1 1241.3 1361.2 1241.3 1364.3 1241.3 1367.4 1241.2 1370.6 1241.2 1373.8 1241.2 1377.1 1241.1 1380.3 1241.1 1383.6 1241.1 1386.9 1241.1 1390.1 1241.0 1393.4 1241.0 1396.7 1241.0 1400.0 1241.0 1402.6 1241.0 1405.3 1241.0 1408.0 1241.0 1410.7 1241.0 1413.5 1241.0 1416.2 1241.0 1419.0 1241.0 1421.9 1241.0 1424.7 1241.0 1427.6 1241.0 1430.5 1241.0 1433.4 1241.1 1436.3 1241.1 1439.3 1241.1 1442.2 1241.1 1445.2 1241.1 1448.2 1241.1 1451.2 1241.1 1454.2 1241.1 1457.3 1241.2 1460.3 1241.2 1463.3 1241.2 1466.4 1241.2 1469.4 1241.2 1472.5 1241.2 1475.6 1241.3 1478.6 1241.3 1481.7 1241.3 1484.7 1241.3 1487.8 1241.3 1490.9 1241.3 1493.9 1241.4 1497.0 1241.4 1500.0 1241.4 1503.0 1241.4 1506.1 1241.4 1509.1 1241.4 1512.1 1241.5 1515.1 1241.5 1518.0 1241.5 1521.0 1241.5" fill="none" stroke="#666666" stroke-width="9" stroke-linecap="round" stroke-linejoin="round" stroke-dasharray="15.5 17.8"/>
<path d="M310.2 326.5 311.6 323.8 313.0 321.0 314.5 318.2 315.9 315.2 317.4 312.2 318.9 309.2 320.4 306.1 321.9 302.9 323.5 299.7 325.1 296.5 326.6 293.2 328.2 290.0 329.8 286.7 331.4 283.3 333.0 280.0 334.5 276.7 336.1 273.3 337.7 270.0 339.3 266.7 340.9 263.4 342.5 260.1 344.0 256.9 345.6 253.7 347.1 250.5 348.6 247.4 350.1 244.3 351.6 241.3 353.1 238.4 354.5 235.5 356.0 232.7 357.4 229.9 358.7 227.3 360.1 224.7 361.4 222.3 362.7 219.9 363.9 217.7 365.1 215.5 366.3 213.5 367.5 211.6 368.6 209.8 369.6 208.2 370.6 206.7 371.6 205.4 372.5 204.1 373.4 203.1 374.2 202.2 375.0 201.5 377.2 200.0 379.0 199.6 381.1 199.5 383.6 199.8 386.3 200.6 389.1 201.8 392.0 203.0 394.2 204.1 396.5 205.5 398.7 206.9 401.0 208.4 403.4 209.6 405.7 210.5 408.3 211.0 411.0 211.2 413.7 211.3 416.5 211.3 419.4 211.4 421.9 211.6 424.4 211.9 427.0 212.3 429.7 212.6 432.5 212.9 435.5 213.2 438.8 213.5 441.1 213.7 443.5 213.8 446.0 213.9 448.6 214.1 451.3 214.2 454.1 214.3 457.0 214.4 459.9 214.5 462.9 214.6 465.9 214.6 468.9 214.7 472.0 214.8 475.0 214.9 478.1 215.0 481.2 215.1 484.2 215.2 487.2 215.3 490.0 215.4 492.8 215.5 495.6 215.6 498.4 215.7 501.3 215.8 504.1 215.9 507.0 216.0 509.9 216.1 512.8 216.2 515.7 216.3 518.6 216.4 521.5 216.5 524.5 216.6 527.4 216.7 530.4 216.8 533.4 216.9 536.4 217.0 539.4 217.1 542.4 217.2 545.4 217.3 548.2 217.4 551.1 217.5 554.0 217.6 557.0 217.7 559.9 217.8 562.9 217.9 565.8 218.0 568.8 218.1 571.8 218.2 574.8 218.3 577.8 218.4 580.8 218.5 583.8 218.7 586.8 218.8 589.8 218.9 592.8 219.0 595.8 219.2 598.7 219.3 601.7 219.5 604.6 219.6 607.5 219.8 610.4 220.0 613.2 220.2 616.2 220.4 619.3 220.7 622.4 220.9 625.5 221.2 628.6 221.5 631.6 221.7 634.7 222.0 637.8 222.3 640.8 222.6 643.9 223.0 646.9 223.3 649.8 223.6 652.7 223.9 655.6 224.2 658.4 224.5 661.1 224.8 663.8 225.1 666.4 225.4 669.0 225.7 671.4 226.0 674.8 226.4 678.1 226.8 681.4 227.2 684.6 227.6 687.7 227.9 690.6 228.3 693.3 228.7 695.8 229.0 698.0 229.4 700.0 229.7 702.3 230.1 704.2 230.4 706.0 230.8 708.0 231.2 710.0 231.7 712.0 232.1 714.0 232.5 716.0 233.0 718.0 233.4 720.0 233.9 722.0 234.4 724.0 234.9 726.0 235.4 728.0 235.9 730.0 236.4 732.0 237.0 734.0 237.5 736.0 238.1 738.0 238.6 740.0 239.2 742.0 239.8 744.0 240.4 746.0 241.1 748.0 241.7 750.0 242.3 752.0 243.0 754.0 243.7 756.0 244.4 758.0 245.1 760.0 245.8 762.0 246.5 764.0 247.2 766.0 248.0 768.0 248.8 770.0 249.5 772.0 250.3 774.0 251.1 776.0 252.0 778.0 252.8 780.0 253.7 782.0 254.5 784.0 255.4 786.0 256.3 788.0 257.2 790.0 258.1 792.0 259.1 794.0 260.0 796.0 261.0 798.0 262.0 800.0 263.0 802.0 264.0 804.0 265.1 806.0 266.1 808.0 267.2 810.0 268.3 812.0 269.4 814.0 270.5 816.0 271.7 818.0 272.9 820.0 274.1 822.0 275.3 824.0 276.5 826.0 277.8 828.0 279.1 830.0 280.4 832.0 281.8 834.0 283.2 836.0 284.6 838.0 286.0 840.0 287.5 842.0 289.0 844.0 290.5 846.0 292.1 848.0 293.7 850.0 295.3 852.0 297.0 854.0 298.7 856.0 300.4 858.0 302.2 860.0 304.0 862.0 305.8 864.0 307.7 866.0 309.7 868.0 311.6 870.0 313.6 872.0 315.7 874.0 317.8 876.0 319.9 878.0 322.1 880.0 324.3 881.5 326.0 883.0 327.8 884.5 329.5 886.0 331.3 887.5 333.1 889.0 335.0 890.5 336.8 892.0 338.7 893.5 340.6 895.0 342.6 896.5 344.6 898.0 346.6 899.5 348.6 901.0 350.7 902.5 352.8 904.0 354.9 905.5 357.1 907.0 359.3 908.5 361.5 910.0 363.8 911.5 366.1 913.0 368.4 914.5 370.7 916.0 373.1 917.5 375.6 919.0 378.0 920.5 380.5 922.0 383.0 923.2 385.1 924.4 387.1 925.6 389.2 926.8 391.3 928.0 393.5 929.2 395.6 930.4 397.8 931.6 400.0 932.8 402.2 934.0 404.5 935.2 406.7 936.4 409.0 937.6 411.4 938.8 413.7 940.0 416.0 941.2 418.4 942.4 420.8 943.6 423.2 944.8 425.6 946.0 428.1 947.2 430.6 948.4 433.1 949.6 435.6 950.8 438.1 952.0 440.7 953.2 443.3 954.4 445.9 955.6 448.5 956.8 451.1 958.0 453.8 959.2 456.5 960.4 459.2 961.6 461.9 962.8 464.6 964.0 467.4 965.0 469.7 966.0 472.0 967.0 474.3 968.0 476.7 969.0 479.1 970.0 481.4 971.0 483.8 972.0 486.2 973.0 488.6 974.0 491.1 975.0 493.5 976.0 495.9 977.0 498.4 978.0 500.9 979.0 503.4 980.0 505.9 981.0 508.4 982.0 510.9 983.0 513.5 984.0 516.0 985.0 518.6 986.0 521.2 987.0 523.7 988.0 526.3 989.0 529.0 990.0 531.6 991.0 534.2 992.0 536.9 993.0 539.5 994.0 542.2 995.0 544.9 996.0 547.6 997.0 550.3 998.0 553.0 999.0 555.7 1000.0 558.5 1001.0 561.2 1002.0 564.0 1003.0 566.8 1004.0 569.6 1005.0 572.4 1006.0 575.2 1006.9 577.6 1007.7 580.0 1008.6 582.5 1009.4 584.9 1010.3 587.4 1011.1 589.8 1012.0 592.3 1012.9 594.8 1013.7 597.3 1014.6 599.8 1015.4 602.3 1016.3 604.8 1017.1 607.3 1018.0 609.8 1018.9 612.3 1019.7 614.9 1020.6 617.4 1021.4 620.0 1022.3 622.5 1023.1 625.1 1024.0 627.7 1024.9 630.3 1025.7 632.9 1026.6 635.5 1027.4 638.1 1028.3 640.7 1029.1 643.3 1030.0 645.9 1030.9 648.6 1031.7 651.2 1032.6 653.9 1033.4 656.5 1034.3 659.2 1035.1 661.9 1036.0 664.5 1036.9 667.2 1037.7 670.0 1038.6 672.7 1039.4 675.4 1040.3 678.1 1041.1 680.8 1042.0 683.5 1042.9 686.3 1043.7 689.0 1044.6 691.8 1045.4 694.6 1046.3 697.3 1047.1 700.1 1048.0 702.9 1048.9 705.7 1049.7 708.5 1050.6 711.3 1051.4 714.1 1052.3 716.9 1053.1 719.7 1054.0 722.6 1054.8 725.1 1055.5 727.6 1056.3 730.1 1057.0 732.6 1057.8 735.1 1058.5 737.7 1059.3 740.2 1060.0 742.7 1060.8 745.3 1061.5 747.9 1062.3 750.5 1063.0 753.0 1063.8 755.6 1064.5 758.2 1065.3 760.8 1066.0 763.4 1066.8 766.1 1067.5 768.7 1068.3 771.4 1069.0 774.0 1069.8 776.7 1070.5 779.3 1071.3 782.0 1072.0 784.7 1072.7 787.3 1073.5 790.0 1074.2 792.7 1075.0 795.4 1075.7 798.0 1076.5 800.7 1077.2 803.3 1078.0 806.0 1078.8 808.7 1079.6 811.3 1080.3 813.9 1081.1 816.5 1081.9 819.2 1082.9 822.1 1084.0 825.3 1084.8 827.5 1085.7 829.9 1086.7 832.4 1087.8 835.1 1089.0 837.8 1090.2 840.7 1091.4 843.6 1092.7 846.5 1094.0 849.5 1095.2 852.5 1096.5 855.5 1097.7 858.5 1098.9 861.4 1100.0 864.2 1101.0 866.9 1101.9 869.6 1102.7 872.1 1103.4 874.4 1104.1 877.4 1104.6 880.1 1105.0 882.8 1105.3 885.3 1105.5 887.8 1105.8 890.3 1106.1 892.8 1106.6 895.4 1107.3 898.1 1108.1 900.6 1109.0 903.2 1110.0 905.8 1111.1 908.4 1112.3 911.1 1113.5 913.7 1114.8 916.4 1116.1 919.1 1117.4 921.9 1118.6 924.6 1119.8 927.3 1121.0 930.0 1122.1 932.6 1123.2 935.2 1124.2 937.8 1125.3 940.4 1126.4 943.0 1127.5 945.7 1128.6 948.3 1129.7 950.9 1130.7 953.6 1131.8 956.2 1132.9 958.8 1133.9 961.4 1135.0 964.0 1136.1 966.7 1137.2 969.4 1138.3 972.1 1139.4 974.7 1140.4 977.4 1141.5 980.0 1142.6 982.7 1143.7 985.3 1144.7 988.0 1145.8 990.6 1146.9 993.3 1148.0 996.0 1149.1 998.8 1150.3 1001.8 1151.4 1005.0 1152.5 1008.1 1153.7 1011.3 1154.8 1014.5 1156.0 1017.5 1157.1 1020.3 1158.2 1023.0 1159.3 1025.3 1160.4 1027.4 1161.5 1029.0 1163.4 1031.0 1165.2 1032.3 1167.0 1033.5 1168.7 1034.5 1170.4 1035.5 1172.0 1037.0 1173.1 1038.7 1174.1 1040.8 1175.1 1043.2 1176.0 1045.8 1177.0 1048.5 1178.1 1051.1 1179.4 1053.6 1180.8 1055.9 1182.3 1058.2 1183.9 1060.5 1185.6 1062.7 1187.3 1065.0 1189.1 1067.3 1190.8 1069.6 1192.6 1072.0 1194.3 1074.3 1196.0 1076.6 1197.7 1079.0 1199.4 1081.4 1201.2 1083.8 1202.9 1086.2 1204.7 1088.5 1206.6 1090.8 1208.4 1093.1 1210.2 1095.2 1212.0 1097.4 1213.9 1099.5 1215.8 1101.5 1217.7 1103.6 1219.6 1105.6 1221.5 1107.6 1223.5 1109.5 1225.5 1111.5 1227.6 1113.5 1229.7 1115.5 1231.9 1117.5 1234.0 1119.4 1236.2 1121.3 1238.5 1123.2 1240.7 1125.1 1243.0 1126.9 1245.2 1128.6 1247.6 1130.4 1250.0 1132.1 1252.4 1133.7 1254.8 1135.3 1257.3 1136.9 1259.8 1138.4 1262.3 1140.0 1264.9 1141.7 1267.3 1143.2 1269.7 1144.9 1272.2 1146.5 1274.7 1148.2 1277.3 1149.8 1279.8 1151.5 1282.4 1153.0 1285.0 1154.5 1287.5 1155.9 1290.0 1157.2 1292.7 1158.5 1295.4 1159.6 1298.1 1160.6 1300.7 1161.6 1303.4 1162.5 1306.1 1163.4 1308.9 1164.3 1311.8 1165.2 1314.3 1166.0 1316.9 1166.9 1319.5 1167.8 1322.2 1168.6 1324.9 1169.5 1327.7 1170.4 1330.4 1171.2 1333.1 1172.0 1335.8 1172.7 1338.4 1173.3 1340.9 1173.9 1343.7 1174.4 1346.5 1174.8 1349.1 1175.2 1351.8 1175.4 1354.4 1175.7 1357.1 1176.0 1359.9 1176.3 1362.7 1176.8 1365.2 1177.3 1367.8 1177.9 1370.4 1178.5 1373.0 1179.2 1375.7 1179.9 1378.4 1180.6 1381.1 1181.3 1383.8 1182.0 1386.5 1182.8 1389.1 1183.4 1391.8 1184.1 1394.7 1184.8 1397.6 1185.5 1400.5 1186.2 1403.4 1186.9 1406.3 1187.5 1409.2 1188.2 1412.1 1188.9 1415.0 1189.5 1417.9 1190.1 1420.8 1190.7 1423.8 1191.2 1426.9 1191.7 1430.1 1192.2 1433.3 1192.6 1436.5 1193.0 1439.5 1193.4 1442.5 1193.9 1445.2 1194.4 1447.7 1195.0 1449.9 1195.7 1452.4 1196.9 1454.3 1198.4 1456.2 1199.7 1458.6 1200.8 1461.0 1201.4 1463.7 1201.7 1466.7 1201.8 1469.7 1201.9 1472.9 1201.9 1476.0 1202.0 1479.0 1202.3 1481.7 1202.7 1484.4 1203.1 1487.2 1203.6 1489.9 1204.1 1492.6 1204.6 1495.4 1205.0 1498.1 1205.5 1500.8 1205.9 1503.7 1206.3 1506.6 1206.6 1509.5 1206.9 1512.4 1207.2 1515.3 1207.5 1518.2 1207.8 1521.1 1208.1" fill="none" stroke="#000" stroke-width="9" stroke-linecap="round" stroke-linejoin="round"/>
<path d="M310.2 320.5 311.6 317.8 312.9 315.1 314.4 312.2 315.8 309.3 317.2 306.4 318.7 303.4 320.2 300.3 321.7 297.2 323.2 294.1 324.7 290.9 326.2 287.7 327.7 284.4 329.3 281.2 330.8 277.9 332.4 274.6 333.9 271.4 335.5 268.1 337.0 264.8 338.6 261.5 340.1 258.3 341.6 255.0 343.2 251.8 344.7 248.6 346.2 245.5 347.7 242.4 349.1 239.3 350.6 236.3 352.1 233.4 353.5 230.5 354.9 227.7 356.3 224.9 357.6 222.2 359.0 219.6 360.3 217.1 361.6 214.7 362.8 212.3 364.0 210.1 365.2 208.0 366.4 205.9 367.5 204.0 368.6 202.2 369.6 200.6 370.6 199.0 371.6 197.6 372.5 196.4 373.4 195.3 374.2 194.3 375.0 193.5 377.4 191.5 379.5 190.6 381.8 190.3 384.2 190.4 386.7 191.0 389.3 191.9 392.0 193.0 394.2 194.0 396.4 195.3 398.7 196.8 401.0 198.2 403.3 199.5 405.7 200.4 408.2 201.1 410.6 201.4 413.1 201.6 415.9 201.8 419.4 202.0 421.3 202.1 423.3 202.3 425.6 202.5 428.0 202.6 430.6 202.8 433.3 202.9 436.2 203.1 439.2 203.2 442.2 203.4 445.4 203.6 448.7 203.7 452.0 203.9 455.3 204.0 458.7 204.2 462.1 204.4 465.5 204.5 468.9 204.7 472.3 204.8 475.7 205.0 479.0 205.1 482.2 205.3 485.3 205.4 488.4 205.5 491.4 205.7 494.2 205.8 496.9 205.9 500.0 206.0 503.1 206.2 506.0 206.3 508.9 206.4 511.7 206.5 514.5 206.6 517.3 206.7 520.0 206.8 522.7 206.9 525.4 207.0 528.1 207.1 530.9 207.2 533.7 207.3 536.5 207.4 539.4 207.6 542.4 207.7 545.4 207.8 548.1 207.9 550.9 208.0 553.7 208.1 556.6 208.2 559.5 208.4 562.4 208.5 565.4 208.6 568.4 208.7 571.4 208.8 574.4 208.9 577.4 209.0 580.4 209.2 583.5 209.3 586.5 209.4 589.6 209.6 592.6 209.7 595.6 209.8 598.6 210.0 601.6 210.1 604.5 210.3 607.5 210.5 610.3 210.6 613.2 210.8 616.2 211.0 619.3 211.2 622.4 211.4 625.5 211.6 628.5 211.9 631.6 212.1 634.7 212.3 637.8 212.6 640.8 212.8 643.9 213.0 646.9 213.3 649.8 213.6 652.7 213.8 655.6 214.1 658.4 214.3 661.1 214.6 663.8 214.8 666.4 215.1 669.0 215.3 671.4 215.6 674.8 216.0 678.1 216.4 681.4 216.7 684.6 217.1 687.7 217.5 690.6 217.9 693.3 218.3 695.8 218.7 698.0 219.0 700.0 219.3 702.3 219.6 704.2 219.9 706.0 220.2 708.0 220.5 710.0 220.9 712.0 221.2 714.0 221.6 716.0 222.0 718.0 222.3 720.0 222.7 722.0 223.1 724.0 223.5 726.0 223.9 728.0 224.4 730.0 224.8 732.0 225.3 734.0 225.7 736.0 226.2 738.0 226.7 740.0 227.1 742.0 227.6 744.0 228.2 746.0 228.7 748.0 229.2 750.0 229.8 752.0 230.3 754.0 230.9 756.0 231.5 758.0 232.1 760.0 232.7 762.0 233.3 764.0 233.9 766.0 234.6 768.0 235.2 770.0 235.9 772.0 236.6 774.0 237.3 776.0 238.0 778.0 238.7 780.0 239.5 782.0 240.2 784.0 241.0 786.0 241.8 788.0 242.6 790.0 243.4 792.0 244.2 794.0 245.1 796.0 245.9 798.0 246.8 800.0 247.7 802.0 248.6 804.0 249.6 806.0 250.5 808.0 251.5 810.0 252.5 812.0 253.5 814.0 254.5 816.0 255.5 818.0 256.6 820.0 257.7 822.0 258.8 824.0 259.9 826.0 261.1 828.0 262.3 830.0 263.5 832.0 264.7 834.0 266.0 836.0 267.3 838.0 268.6 840.0 269.9 842.0 271.3 844.0 272.7 846.0 274.1 848.0 275.6 850.0 277.1 852.0 278.6 854.0 280.2 856.0 281.8 858.0 283.4 860.0 285.1 862.0 286.7 864.0 288.5 866.0 290.3 868.0 292.1 870.0 293.9 872.0 295.8 874.0 297.7 876.0 299.7 878.0 301.7 880.0 303.8 882.0 305.9 884.0 308.0 886.0 310.2 887.5 311.9 889.0 313.6 890.5 315.3 892.0 317.0 893.5 318.8 895.0 320.6 896.5 322.4 898.0 324.2 899.5 326.1 901.0 328.0 902.5 330.0 904.0 331.9 905.5 333.9 907.0 335.9 908.5 338.0 910.0 340.0 911.5 342.1 913.0 344.3 914.5 346.4 916.0 348.6 917.5 350.9 919.0 353.1 920.5 355.4 922.0 357.7 923.5 360.1 925.0 362.5 926.5 364.9 928.0 367.3 929.5 369.8 931.0 372.3 932.5 374.8 934.0 377.4 935.2 379.5 936.4 381.6 937.6 383.7 938.8 385.9 940.0 388.0 941.2 390.2 942.4 392.4 943.6 394.7 944.8 396.9 946.0 399.2 947.2 401.5 948.4 403.8 949.6 406.1 950.8 408.4 952.0 410.8 953.2 413.2 954.4 415.6 955.6 418.0 956.8 420.4 958.0 422.8 959.2 425.3 960.4 427.8 961.6 430.3 962.8 432.9 964.0 435.4 965.2 438.0 966.4 440.5 967.6 443.1 968.8 445.7 970.0 448.4 971.2 451.0 972.4 453.7 973.6 456.4 974.8 459.1 976.0 461.8 977.0 464.0 978.0 466.3 979.0 468.6 980.0 470.9 981.0 473.3 982.0 475.6 983.0 477.9 984.0 480.3 985.0 482.6 986.0 485.0 987.0 487.4 988.0 489.8 989.0 492.2 990.0 494.6 991.0 497.0 992.0 499.5 993.0 501.9 994.0 504.4 995.0 506.8 996.0 509.3 997.0 511.8 998.0 514.3 999.0 516.8 1000.0 519.3 1001.0 521.8 1002.0 524.4 1003.0 526.9 1004.0 529.5 1005.0 532.0 1006.0 534.6 1007.0 537.2 1008.0 539.8 1009.0 542.4 1010.0 545.0 1011.0 547.6 1012.0 550.2 1013.0 552.9 1014.0 555.5 1015.0 558.2 1016.0 560.8 1017.0 563.5 1018.0 566.2 1019.0 568.9 1020.0 571.6 1021.0 574.3 1022.0 577.0 1023.0 579.7 1024.0 582.4 1025.0 585.2 1026.0 587.9 1027.0 590.7 1028.0 593.4 1029.0 596.2 1030.0 599.0 1031.0 601.7 1032.0 604.5 1033.0 607.3 1034.0 610.1 1035.0 613.0 1036.0 615.8 1036.9 618.2 1037.7 620.6 1038.6 623.1 1039.4 625.5 1040.3 627.9 1041.1 630.4 1042.0 632.8 1042.9 635.3 1043.7 637.8 1044.6 640.2 1045.4 642.7 1046.3 645.2 1047.1 647.7 1048.0 650.1 1048.9 652.6 1049.7 655.1 1050.6 657.6 1051.4 660.1 1052.3 662.6 1053.1 665.2 1054.0 667.7 1054.9 670.2 1055.7 672.7 1056.6 675.3 1057.4 677.8 1058.3 680.3 1059.1 682.9 1060.0 685.4 1060.9 688.0 1061.7 690.5 1062.6 693.1 1063.4 695.6 1064.3 698.2 1065.1 700.8 1066.0 703.3 1066.9 705.9 1067.7 708.5 1068.6 711.0 1069.4 713.6 1070.3 716.2 1071.1 718.8 1072.0 721.3 1072.9 723.9 1073.7 726.5 1074.6 729.0 1075.4 731.6 1076.3 734.2 1077.1 736.7 1078.0 739.3 1078.9 741.8 1079.7 744.4 1080.6 746.9 1081.4 749.5 1082.3 752.0 1083.1 754.5 1084.0 757.1 1084.9 759.6 1085.7 762.1 1086.6 764.6 1087.4 767.0 1088.3 769.5 1089.1 772.0 1090.0 774.5 1090.8 776.9 1091.7 779.3 1092.5 781.7 1093.4 784.1 1094.2 786.6 1095.1 789.0 1096.0 791.5 1097.1 794.2 1098.2 797.0 1099.4 799.8 1100.6 802.7 1101.8 805.5 1102.8 808.3 1103.6 811.0 1104.2 813.7 1104.7 816.3 1105.1 818.8 1105.4 821.4 1105.7 824.0 1106.0 826.7 1106.3 829.3 1106.6 831.9 1106.9 834.6 1107.2 837.3 1107.6 840.0 1108.0 842.6 1108.5 845.0 1109.2 847.8 1110.1 850.4 1111.0 852.9 1112.0 855.4 1113.0 858.0 1114.0 860.6 1115.0 863.1 1116.1 865.7 1117.2 868.4 1118.4 871.5 1119.2 873.7 1120.1 876.0 1121.0 878.5 1121.9 881.1 1122.8 883.7 1123.8 886.5 1124.8 889.3 1125.8 892.1 1126.9 894.9 1127.9 897.7 1129.0 900.4 1130.0 903.1 1131.1 905.7 1132.1 908.4 1133.2 911.0 1134.4 913.6 1135.5 916.3 1136.6 918.9 1137.8 921.5 1138.9 924.1 1140.1 926.7 1141.3 929.4 1142.4 932.0 1143.6 934.6 1144.8 937.3 1146.1 940.0 1147.4 942.8 1148.8 945.6 1150.1 948.4 1151.5 951.2 1152.8 953.9 1154.0 956.6 1155.2 959.2 1156.4 961.7 1157.4 964.0 1158.3 966.2 1159.4 969.5 1160.2 972.7 1160.9 975.7 1161.8 978.2 1163.0 980.0 1164.8 980.9 1166.9 981.1 1169.0 982.0 1170.5 983.6 1172.0 985.7 1173.4 988.2 1174.9 991.0 1176.4 994.0 1177.9 996.9 1179.4 999.7 1180.8 1002.1 1182.2 1004.5 1183.7 1007.0 1185.1 1009.5 1186.6 1012.1 1188.1 1014.6 1189.6 1017.1 1191.1 1019.6 1192.6 1022.1 1194.0 1024.5 1195.5 1026.9 1196.9 1029.2 1198.4 1031.6 1199.8 1033.9 1201.3 1036.3 1202.7 1038.6 1204.2 1040.9 1205.7 1043.1 1207.3 1045.5 1208.9 1047.9 1210.5 1050.2 1212.1 1052.5 1213.7 1054.8 1215.4 1057.0 1217.1 1059.3 1218.9 1061.5 1220.7 1063.7 1222.6 1065.9 1224.5 1068.1 1226.5 1070.3 1228.4 1072.4 1230.5 1074.5 1232.6 1076.6 1234.7 1078.6 1236.7 1080.5 1238.8 1082.3 1241.0 1084.1 1243.2 1086.0 1245.4 1087.7 1247.6 1089.5 1249.9 1091.2 1252.1 1092.8 1254.4 1094.4 1256.8 1096.0 1259.3 1097.6 1261.8 1099.1 1264.3 1100.5 1266.8 1102.0 1269.3 1103.4 1271.7 1104.8 1274.1 1106.2 1276.4 1107.7 1278.7 1109.1 1280.9 1110.6 1283.1 1112.0 1285.3 1113.5 1287.6 1115.0 1290.0 1116.5 1292.3 1117.9 1294.6 1119.5 1296.9 1121.1 1299.4 1122.7 1301.8 1124.3 1304.3 1125.8 1306.8 1127.2 1309.3 1128.5 1311.8 1129.6 1314.5 1130.5 1317.2 1131.3 1320.0 1132.0 1322.8 1132.5 1325.5 1133.0 1328.3 1133.3 1331.0 1133.7 1333.6 1134.0 1336.6 1134.2 1339.6 1134.3 1342.4 1134.2 1345.3 1134.2 1348.2 1134.3 1351.1 1134.7 1353.8 1135.3 1356.4 1136.1 1359.0 1137.1 1361.7 1138.1 1364.4 1139.2 1367.2 1140.2 1370.0 1141.2 1372.6 1142.0 1375.3 1142.9 1378.0 1143.9 1380.8 1144.8 1383.6 1145.7 1386.4 1146.5 1389.2 1147.3 1391.9 1147.9 1394.7 1148.5 1397.6 1148.9 1400.5 1149.1 1403.4 1149.2 1406.3 1149.3 1409.2 1149.3 1412.1 1149.4 1415.0 1149.6 1417.9 1150.0 1420.7 1150.5 1423.4 1151.2 1426.2 1152.0 1429.0 1152.8 1431.8 1153.7 1434.6 1154.6 1437.3 1155.5 1440.0 1156.4 1442.6 1157.2 1445.5 1158.2 1448.3 1159.3 1451.0 1160.4 1453.8 1161.5 1456.4 1162.4 1459.0 1163.2 1461.5 1163.8 1464.2 1164.0 1466.7 1163.9 1469.3 1163.7 1471.8 1163.5 1474.6 1163.8 1477.1 1164.4 1479.7 1165.3 1482.3 1166.4 1485.1 1167.6 1487.9 1168.8 1490.7 1170.0 1493.5 1171.0 1496.4 1171.8 1499.0 1172.3 1501.7 1172.7 1504.5 1173.0 1507.2 1173.2 1510.0 1173.3 1512.8 1173.4 1515.6 1173.6 1518.3 1173.7 1521.1 1173.9" fill="none" stroke="#005d91" stroke-width="9" stroke-linecap="round" stroke-linejoin="round"/>
<path d="M310.2 260.4 311.6 257.8 313.0 255.0 314.4 252.3 315.8 249.4 317.3 246.5 318.7 243.5 320.2 240.5 321.7 237.5 323.2 234.4 324.7 231.3 326.2 228.1 327.8 224.9 329.3 221.7 330.9 218.5 332.4 215.3 334.0 212.1 335.5 208.9 337.0 205.7 338.6 202.5 340.1 199.3 341.6 196.1 343.2 193.0 344.7 189.9 346.2 186.8 347.7 183.8 349.1 180.8 350.6 177.9 352.0 175.0 353.5 172.2 354.9 169.5 356.2 166.8 357.6 164.2 358.9 161.7 360.2 159.3 361.5 157.0 362.7 154.7 363.9 152.6 365.1 150.6 366.3 148.7 367.4 146.9 368.4 145.2 369.5 143.6 370.5 142.2 371.4 141.0 372.3 139.8 373.2 138.8 374.0 138.0 376.7 135.9 379.0 134.9 381.5 134.5 384.0 134.6 386.7 135.2 389.5 136.1 392.0 137.0 394.1 138.0 396.2 139.1 398.1 140.3 400.0 141.3 402.0 142.3 403.8 143.1 406.0 143.8 408.2 144.1 410.7 144.2 413.4 144.2 416.3 144.2 419.4 144.2 421.9 144.3 424.6 144.4 427.5 144.5 430.5 144.6 433.5 144.7 436.7 144.8 439.8 144.9 442.8 145.1 445.7 145.3 448.5 145.6 451.3 146.0 454.1 146.5 456.8 147.1 459.4 147.7 462.0 148.2 464.6 148.7 467.2 149.0 469.8 149.1 472.6 148.9 475.4 148.4 478.2 147.7 481.0 146.9 483.8 146.3 486.5 145.8 489.2 145.6 492.1 145.8 494.9 146.3 497.7 147.0 500.5 147.8 503.4 148.5 506.6 149.1 509.2 149.4 512.0 149.6 515.0 149.8 518.0 150.0 521.0 150.1 524.1 150.3 527.2 150.4 530.1 150.6 533.0 150.8 535.7 151.0 538.7 151.4 541.5 151.8 544.3 152.3 547.0 152.8 549.6 153.3 552.3 153.6 555.1 153.9 557.9 154.0 560.7 154.1 563.5 154.0 566.4 153.9 569.2 153.8 572.1 153.6 575.0 153.5 577.8 153.3 580.7 153.1 583.6 152.8 586.5 152.5 589.4 152.2 592.3 152.0 595.1 151.9 597.7 152.0 600.4 152.3 602.8 152.7 605.2 153.3 607.6 153.9 610.2 154.4 613.2 154.9 615.6 155.1 618.2 155.4 620.9 155.5 623.8 155.7 626.8 155.8 629.9 155.9 633.1 156.0 636.3 156.1 639.5 156.2 642.7 156.3 645.9 156.4 649.0 156.6 652.0 156.8 655.0 157.0 658.0 157.2 661.0 157.5 664.0 157.7 667.0 157.9 670.0 158.2 673.0 158.5 676.0 158.8 679.0 159.1 681.9 159.4 684.9 159.8 687.9 160.2 690.8 160.7 693.8 161.2 696.8 161.8 700.0 162.5 703.2 163.2 706.5 163.9 709.7 164.6 712.8 165.4 715.8 166.1 718.6 166.8 721.3 167.5 723.7 168.1 725.8 168.6 727.6 169.0 730.0 169.5 731.8 169.8 733.6 170.2 735.6 170.6 737.6 171.1 739.6 171.5 741.6 172.0 743.6 172.4 745.6 172.9 747.6 173.4 749.6 173.9 751.6 174.4 753.6 174.9 755.6 175.5 757.6 176.0 759.6 176.6 761.6 177.2 763.6 177.7 765.6 178.4 767.6 179.0 769.6 179.6 771.6 180.3 773.6 180.9 775.6 181.6 777.6 182.3 779.6 183.1 781.6 183.8 783.6 184.6 785.6 185.4 787.6 186.2 789.6 187.0 791.6 187.8 793.6 188.7 795.6 189.6 797.6 190.5 799.6 191.4 801.6 192.4 803.6 193.3 805.6 194.3 807.6 195.4 809.6 196.4 811.6 197.5 813.6 198.6 815.6 199.7 817.6 200.9 819.6 202.0 821.6 203.2 823.6 204.5 825.6 205.7 827.6 207.0 829.6 208.3 831.6 209.7 833.6 211.1 835.6 212.5 837.6 213.9 839.6 215.4 841.6 216.9 843.6 218.4 845.6 220.0 847.6 221.6 849.6 223.2 851.6 224.9 853.6 226.5 855.6 228.3 857.6 230.1 859.6 231.8 861.6 233.7 863.6 235.6 865.6 237.5 867.6 239.4 869.6 241.4 871.6 243.4 873.6 245.5 875.6 247.6 877.6 249.7 879.6 251.9 881.6 254.1 883.6 256.4 885.1 258.1 886.6 259.9 888.1 261.6 889.6 263.4 891.1 265.2 892.6 267.1 894.1 268.9 895.6 270.8 897.1 272.7 898.6 274.7 900.1 276.6 901.6 278.6 903.1 280.6 904.6 282.7 906.1 284.7 907.6 286.8 909.1 288.9 910.6 291.1 912.1 293.2 913.6 295.4 915.1 297.6 916.6 299.9 918.1 302.2 919.6 304.4 921.1 306.8 922.6 309.1 924.1 311.5 925.6 313.9 927.1 316.4 928.6 318.8 930.1 321.3 931.6 323.8 933.1 326.4 934.6 329.0 936.1 331.6 937.6 334.2 938.8 336.3 940.0 338.5 941.2 340.6 942.4 342.8 943.6 345.0 944.8 347.2 946.0 349.5 947.2 351.7 948.4 354.0 949.6 356.2 950.8 358.6 952.0 360.9 953.2 363.2 954.4 365.6 955.6 367.9 956.8 370.3 958.0 372.7 959.2 375.2 960.4 377.6 961.6 380.1 962.8 382.5 964.0 385.0 965.2 387.6 966.4 390.1 967.6 392.6 968.8 395.2 970.0 397.8 971.2 400.4 972.4 403.0 973.6 405.6 974.8 408.3 976.0 411.0 977.2 413.7 978.4 416.4 979.6 419.1 980.6 421.4 981.6 423.7 982.6 426.0 983.6 428.4 984.6 430.7 985.6 433.0 986.6 435.4 987.6 437.8 988.6 440.2 989.6 442.6 990.6 445.0 991.6 447.4 992.6 449.8 993.6 452.3 994.6 454.7 995.6 457.2 996.6 459.7 997.6 462.2 998.6 464.7 999.6 467.2 1000.6 469.8 1001.6 472.3 1002.6 474.9 1003.6 477.4 1004.6 480.0 1005.6 482.6 1006.6 485.3 1007.6 487.9 1008.6 490.5 1009.6 493.1 1010.6 495.8 1011.6 498.5 1012.6 501.2 1013.6 503.9 1014.6 506.6 1015.6 509.3 1016.6 512.0 1017.6 514.8 1018.6 517.6 1019.6 520.3 1020.6 523.1 1021.6 525.9 1022.5 528.3 1023.3 530.7 1024.2 533.2 1025.0 535.6 1025.9 538.0 1026.7 540.5 1027.6 542.9 1028.5 545.4 1029.3 547.9 1030.2 550.4 1031.0 552.9 1031.9 555.4 1032.7 557.9 1033.6 560.4 1034.5 563.0 1035.3 565.5 1036.2 568.1 1037.0 570.7 1037.9 573.2 1038.7 575.8 1039.6 578.4 1040.5 581.0 1041.3 583.6 1042.2 586.2 1043.0 588.8 1043.9 591.4 1044.7 594.0 1045.6 596.6 1046.5 599.3 1047.3 601.9 1048.2 604.6 1049.0 607.2 1049.9 609.9 1050.7 612.5 1051.6 615.2 1052.5 617.8 1053.3 620.5 1054.2 623.1 1055.0 625.8 1055.9 628.5 1056.7 631.1 1057.6 633.8 1058.5 636.5 1059.3 639.1 1060.2 641.8 1061.0 644.5 1061.9 647.1 1062.7 649.8 1063.6 652.5 1064.5 655.1 1065.3 657.8 1066.2 660.4 1067.0 663.1 1067.9 665.8 1068.7 668.4 1069.6 671.1 1070.5 673.7 1071.3 676.3 1072.2 679.0 1073.0 681.6 1073.9 684.2 1074.7 686.9 1075.6 689.5 1076.5 692.1 1077.3 694.7 1078.2 697.3 1079.0 699.9 1079.9 702.5 1080.7 705.1 1081.6 707.6 1082.4 710.1 1083.2 712.5 1084.0 714.8 1084.8 717.2 1085.7 719.7 1086.6 722.4 1087.6 725.4 1088.3 727.5 1089.1 729.9 1090.0 732.3 1090.9 735.0 1091.9 737.7 1092.9 740.6 1093.9 743.5 1094.9 746.5 1096.0 749.5 1097.0 752.5 1098.0 755.5 1099.0 758.4 1100.0 761.3 1100.9 764.1 1101.7 766.8 1102.5 769.4 1103.2 771.8 1103.8 774.1 1104.6 777.2 1105.2 780.1 1105.7 782.9 1106.2 785.6 1106.6 788.2 1107.0 790.6 1107.4 793.0 1107.8 795.2 1108.3 798.0 1108.7 800.5 1109.2 802.9 1109.9 805.7 1110.6 808.0 1111.4 810.6 1112.4 813.3 1113.4 816.1 1114.5 818.9 1115.5 821.6 1116.5 824.3 1117.3 826.7 1118.2 829.5 1118.9 832.0 1119.7 834.4 1120.5 837.0 1121.5 840.0 1122.3 842.2 1123.2 844.5 1124.1 847.0 1125.1 849.5 1126.2 852.2 1127.3 854.9 1128.5 857.7 1129.6 860.5 1130.8 863.3 1131.9 866.1 1133.1 868.8 1134.2 871.5 1135.3 874.1 1136.4 876.8 1137.6 879.4 1138.7 882.0 1139.8 884.7 1141.0 887.3 1142.1 889.9 1143.3 892.6 1144.4 895.2 1145.5 897.8 1146.7 900.5 1147.8 903.1 1148.9 905.8 1150.1 908.6 1151.3 911.5 1152.5 914.4 1153.7 917.3 1154.9 920.2 1156.0 923.0 1157.1 925.7 1158.2 928.2 1159.2 930.6 1160.1 932.7 1161.0 934.6 1162.3 937.8 1163.5 940.5 1165.0 942.5 1166.9 943.5 1169.0 944.0 1171.0 945.0 1172.3 946.5 1173.5 948.5 1174.5 950.8 1175.6 953.2 1176.7 955.7 1177.7 957.9 1178.8 960.3 1179.9 962.9 1181.0 965.5 1182.1 968.1 1183.2 970.7 1184.2 973.0 1185.2 975.0 1186.4 977.2 1187.5 979.1 1188.6 980.9 1190.0 983.0 1191.4 985.1 1193.0 987.3 1194.7 989.7 1196.5 992.2 1198.3 994.7 1200.1 997.2 1201.8 999.7 1203.3 1002.0 1204.7 1004.3 1206.1 1006.6 1207.5 1008.9 1208.9 1011.3 1210.4 1013.6 1212.0 1015.9 1213.6 1018.1 1215.4 1020.3 1217.3 1022.5 1219.2 1024.6 1221.2 1026.8 1223.2 1028.9 1225.3 1030.9 1227.3 1033.1 1229.4 1035.2 1231.4 1037.2 1233.4 1039.3 1235.4 1041.4 1237.4 1043.5 1239.5 1045.6 1241.5 1047.7 1243.6 1049.7 1245.7 1051.7 1247.8 1053.6 1250.0 1055.5 1252.3 1057.4 1254.5 1059.2 1256.8 1061.0 1259.1 1062.7 1261.4 1064.5 1263.8 1066.3 1266.2 1068.1 1268.4 1069.8 1270.7 1071.6 1273.1 1073.5 1275.4 1075.4 1277.8 1077.3 1280.2 1079.1 1282.7 1080.9 1285.1 1082.5 1287.6 1084.0 1290.0 1085.3 1292.6 1086.5 1295.3 1087.5 1297.9 1088.3 1300.5 1089.0 1303.2 1089.7 1305.9 1090.3 1308.8 1091.0 1311.8 1091.8 1314.3 1092.5 1316.9 1093.1 1319.7 1093.8 1322.5 1094.5 1325.4 1095.2 1328.3 1095.9 1331.3 1096.6 1334.2 1097.3 1337.1 1098.0 1340.0 1098.7 1342.8 1099.3 1345.5 1099.9 1348.1 1100.5 1351.1 1101.1 1354.0 1101.7 1356.9 1102.2 1359.7 1102.7 1362.4 1103.2 1365.1 1103.7 1367.7 1104.2 1370.3 1104.9 1372.9 1105.6 1375.8 1106.6 1378.5 1107.8 1381.2 1109.0 1383.8 1110.2 1386.5 1111.5 1389.1 1112.6 1391.8 1113.6 1394.5 1114.4 1397.1 1115.0 1399.8 1115.5 1402.5 1116.1 1405.2 1116.6 1407.9 1117.2 1410.7 1118.0 1413.4 1118.9 1416.3 1120.0 1419.2 1121.1 1422.1 1122.3 1424.9 1123.5 1427.6 1124.6 1430.2 1125.7 1432.5 1126.7 1435.4 1127.8 1438.1 1128.8 1440.5 1129.8 1442.6 1131.1 1444.1 1133.1 1445.3 1135.2 1447.0 1136.9 1449.2 1137.5 1451.9 1137.7 1455.0 1137.5 1458.2 1137.2 1461.4 1137.0 1464.4 1136.9 1467.4 1137.0 1470.2 1137.0 1473.0 1137.1 1475.9 1137.3 1479.0 1137.6 1481.5 1137.9 1484.2 1138.2 1486.9 1138.5 1489.7 1138.8 1492.6 1139.3 1495.4 1139.8 1498.1 1140.5 1500.8 1141.2 1503.4 1142.1 1506.0 1143.2 1508.5 1144.3 1511.1 1145.6 1513.6 1146.9 1516.1 1148.2 1518.6 1149.5 1521.1 1150.7" fill="none" stroke="#31812b" stroke-width="9" stroke-linecap="round" stroke-linejoin="round"/>
</g>
<text x="214.5" y="74.5" font-size="75" text-anchor="end" textLength="37.52" lengthAdjust="spacingAndGlyphs">1</text><text x="214.5" y="313.5" font-size="75" text-anchor="end" textLength="93.77" lengthAdjust="spacingAndGlyphs">0.8</text><text x="214.5" y="552.5" font-size="75" text-anchor="end" textLength="93.77" lengthAdjust="spacingAndGlyphs">0.6</text><text x="214.5" y="791.5" font-size="75" text-anchor="end" textLength="93.77" lengthAdjust="spacingAndGlyphs">0.4</text><text x="214.5" y="1030.5" font-size="75" text-anchor="end" textLength="93.77" lengthAdjust="spacingAndGlyphs">0.2</text><text x="214.5" y="1269.5" font-size="75" text-anchor="end" textLength="37.52" lengthAdjust="spacingAndGlyphs">0</text><text x="290.5" y="1379.5" font-size="75" text-anchor="middle" textLength="93.77" lengthAdjust="spacingAndGlyphs">0.1</text><text x="494.8" y="1379.5" font-size="75" text-anchor="middle" textLength="37.52" lengthAdjust="spacingAndGlyphs">1</text><text x="699.1" y="1379.5" font-size="75" text-anchor="middle" textLength="75.02" lengthAdjust="spacingAndGlyphs">10</text><text x="903.4" y="1379.5" font-size="75" text-anchor="middle" textLength="112.52" lengthAdjust="spacingAndGlyphs">100</text><text x="1107.7" y="1379.5" font-size="75" text-anchor="middle" textLength="150.02" lengthAdjust="spacingAndGlyphs">1000</text><text x="1312.0" y="1379.5" font-size="75" text-anchor="middle" textLength="187.52" lengthAdjust="spacingAndGlyphs">10000</text><text x="1516.3" y="1379.5" font-size="75" text-anchor="middle" textLength="225.02" lengthAdjust="spacingAndGlyphs">100000</text><text x="703.9" y="1480.7" font-size="75" textLength="193.0" lengthAdjust="spacingAndGlyphs">Delay</text><text x="916.0" y="1480.7" font-size="75" textLength="147.9" lengthAdjust="spacingAndGlyphs">time</text><text x="1082.4" y="1480.7" font-size="75" textLength="25.2" lengthAdjust="spacingAndGlyphs">t</text><text x="1123.5" y="1480.7" font-size="75" textLength="134.6" lengthAdjust="spacingAndGlyphs">[µs]</text><text x="588" y="892.7" font-size="75" textLength="137.33" lengthAdjust="spacingAndGlyphs">FS 1</text><text x="588" y="1103" font-size="75" textLength="327.77" lengthAdjust="spacingAndGlyphs">F 1.0µm 1</text><g transform="translate(88.0 1056.0) rotate(-90)"><text x="0" y="0" font-size="75" textLength="751.66" lengthAdjust="spacingAndGlyphs">Correlation function G</text><text x="751.66" y="16.0" font-size="48" textLength="24.02" lengthAdjust="spacingAndGlyphs">2</text><text x="778.10" y="-24.6" font-size="48" textLength="39.98" lengthAdjust="spacingAndGlyphs">-1</text><text x="814.60" y="0" font-size="75" textLength="81.80" lengthAdjust="spacingAndGlyphs">(t)</text></g>
</svg></body></html>
